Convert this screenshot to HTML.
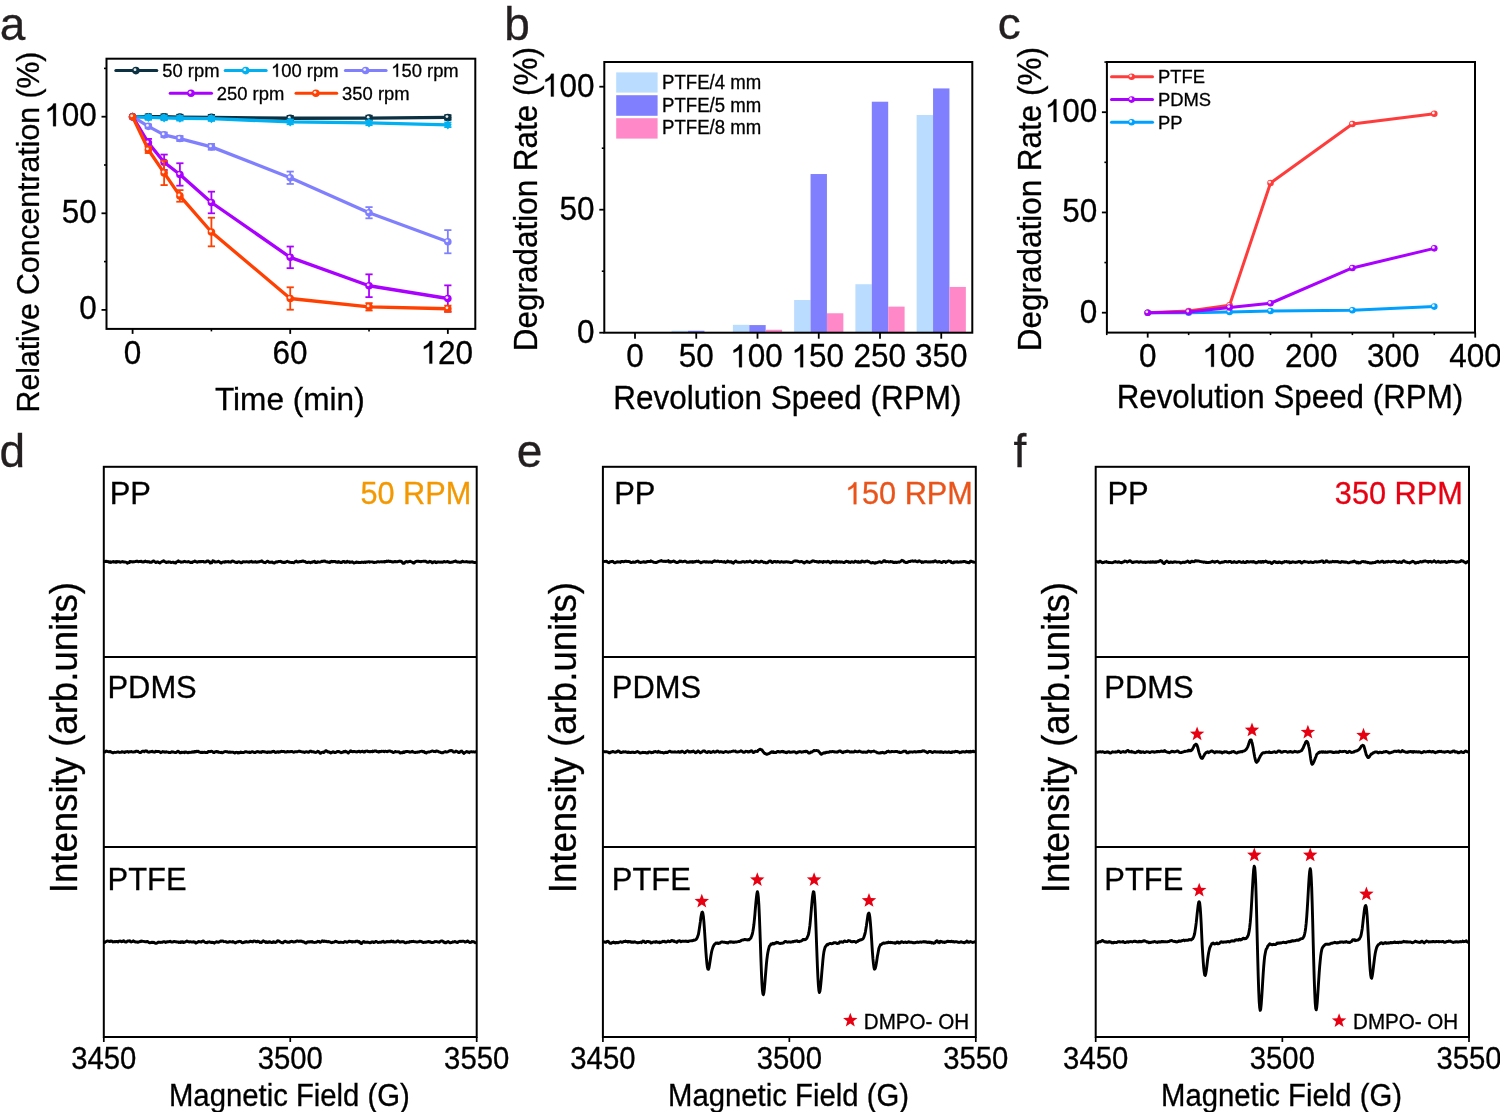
<!DOCTYPE html>
<html><head><meta charset="utf-8"><style>
html,body{margin:0;padding:0;background:#fff;overflow:hidden;}
svg{display:block;will-change:transform;}
text{font-family:"Liberation Sans", sans-serif;stroke-width:0.3px;paint-order:stroke;}
</style></head><body>
<svg width="1500" height="1112" viewBox="0 0 1500 1112">
<rect width="1500" height="1112" fill="#fff"/>
<text x="-0.35" y="40" font-size="46" fill="#231f20" stroke="#231f20" >a</text>
<line x1="101.5" y1="309.9" x2="106.5" y2="309.9" stroke="#000" stroke-width="1.8" />
<line x1="101.5" y1="213.3" x2="106.5" y2="213.3" stroke="#000" stroke-width="1.8" />
<line x1="101.5" y1="116.7" x2="106.5" y2="116.7" stroke="#000" stroke-width="1.8" />
<line x1="104" y1="261.6" x2="106.5" y2="261.6" stroke="#000" stroke-width="1.6" />
<line x1="104" y1="165" x2="106.5" y2="165" stroke="#000" stroke-width="1.6" />
<line x1="104" y1="68.4" x2="106.5" y2="68.4" stroke="#000" stroke-width="1.6" />
<line x1="132.6" y1="328.9" x2="132.6" y2="333.9" stroke="#000" stroke-width="1.8" />
<line x1="290.22" y1="328.9" x2="290.22" y2="333.9" stroke="#000" stroke-width="1.8" />
<line x1="447.84" y1="328.9" x2="447.84" y2="333.9" stroke="#000" stroke-width="1.8" />
<line x1="211.41" y1="328.9" x2="211.41" y2="331.4" stroke="#000" stroke-width="1.6" />
<line x1="369.03" y1="328.9" x2="369.03" y2="331.4" stroke="#000" stroke-width="1.6" />
<text transform="translate(79.21,319.35) scale(1,1.05)" font-size="31.5" fill="#000" stroke="#000" >0</text>
<text transform="translate(61.69,222.75) scale(1,1.05)" font-size="31.5" fill="#000" stroke="#000" >50</text>
<g transform="translate(44.17,126.15) scale(1,1.05)"><text x="0" y="0" font-size="31.5" fill="#000" stroke="#000" > 00</text><path transform="translate(0,0) scale(0.01538,-0.01538)" d="M763 0L583 0L583 1100C540 1058 470 1013 400 975C330 938 270 913 223 898L223 1058C300 1088 390 1138 460 1198C530 1258 580 1330 610 1405L763 1405Z" fill="#000" stroke="#000" stroke-width="0.3" vector-effect="non-scaling-stroke"/></g>
<text transform="translate(123.84,363.6) scale(1,1.05)" font-size="31.5" fill="#000" stroke="#000" >0</text>
<text transform="translate(272.52,363.6) scale(1,1.05)" font-size="31.5" fill="#000" stroke="#000" >60</text>
<g transform="translate(420.46,363.6) scale(1,1.05)"><text x="0" y="0" font-size="31.5" fill="#000" stroke="#000" > 20</text><path transform="translate(0,0) scale(0.01538,-0.01538)" d="M763 0L583 0L583 1100C540 1058 470 1013 400 975C330 938 270 913 223 898L223 1058C300 1088 390 1138 460 1198C530 1258 580 1330 610 1405L763 1405Z" fill="#000" stroke="#000" stroke-width="0.3" vector-effect="non-scaling-stroke"/></g>
<text x="214.94" y="410" font-size="31.6" fill="#000" stroke="#000" >Time (min)</text>
<text transform="translate(38.8,412.38) rotate(-90) scale(1,1.04)" font-size="30.2" fill="#000" stroke="#000">Relative Concentration (%)</text>
<line x1="148.36" y1="114.38" x2="148.36" y2="119.02" stroke="#0b3142" stroke-width="1.8" />
<line x1="144.76" y1="114.38" x2="151.96" y2="114.38" stroke="#0b3142" stroke-width="1.8" />
<line x1="144.76" y1="119.02" x2="151.96" y2="119.02" stroke="#0b3142" stroke-width="1.8" />
<line x1="164.12" y1="114.38" x2="164.12" y2="119.02" stroke="#0b3142" stroke-width="1.8" />
<line x1="160.52" y1="114.38" x2="167.72" y2="114.38" stroke="#0b3142" stroke-width="1.8" />
<line x1="160.52" y1="119.02" x2="167.72" y2="119.02" stroke="#0b3142" stroke-width="1.8" />
<line x1="179.89" y1="114.77" x2="179.89" y2="119.4" stroke="#0b3142" stroke-width="1.8" />
<line x1="176.29" y1="114.77" x2="183.49" y2="114.77" stroke="#0b3142" stroke-width="1.8" />
<line x1="176.29" y1="119.4" x2="183.49" y2="119.4" stroke="#0b3142" stroke-width="1.8" />
<line x1="211.41" y1="114.96" x2="211.41" y2="119.6" stroke="#0b3142" stroke-width="1.8" />
<line x1="207.81" y1="114.96" x2="215.01" y2="114.96" stroke="#0b3142" stroke-width="1.8" />
<line x1="207.81" y1="119.6" x2="215.01" y2="119.6" stroke="#0b3142" stroke-width="1.8" />
<line x1="290.22" y1="115.93" x2="290.22" y2="120.56" stroke="#0b3142" stroke-width="1.8" />
<line x1="286.62" y1="115.93" x2="293.82" y2="115.93" stroke="#0b3142" stroke-width="1.8" />
<line x1="286.62" y1="120.56" x2="293.82" y2="120.56" stroke="#0b3142" stroke-width="1.8" />
<line x1="369.03" y1="115.73" x2="369.03" y2="120.37" stroke="#0b3142" stroke-width="1.8" />
<line x1="365.43" y1="115.73" x2="372.63" y2="115.73" stroke="#0b3142" stroke-width="1.8" />
<line x1="365.43" y1="120.37" x2="372.63" y2="120.37" stroke="#0b3142" stroke-width="1.8" />
<line x1="447.84" y1="115.15" x2="447.84" y2="119.79" stroke="#0b3142" stroke-width="1.8" />
<line x1="444.24" y1="115.15" x2="451.44" y2="115.15" stroke="#0b3142" stroke-width="1.8" />
<line x1="444.24" y1="119.79" x2="451.44" y2="119.79" stroke="#0b3142" stroke-width="1.8" />
<polyline points="132.6,116.7 148.36,116.7 164.12,116.7 179.89,117.09 211.41,117.28 290.22,118.25 369.03,118.05 447.84,117.47" fill="none" stroke="#0b3142" stroke-width="3.3" stroke-linejoin="round" stroke-linecap="round" />
<circle cx="132.6" cy="116.7" r="3.8" fill="#0b3142"/>
<circle cx="131.7" cy="115.8" r="1.4" fill="#fff" opacity="0.9"/>
<circle cx="148.36" cy="116.7" r="3.8" fill="#0b3142"/>
<circle cx="147.46" cy="115.8" r="1.4" fill="#fff" opacity="0.9"/>
<circle cx="164.12" cy="116.7" r="3.8" fill="#0b3142"/>
<circle cx="163.22" cy="115.8" r="1.4" fill="#fff" opacity="0.9"/>
<circle cx="179.89" cy="117.09" r="3.8" fill="#0b3142"/>
<circle cx="178.99" cy="116.19" r="1.4" fill="#fff" opacity="0.9"/>
<circle cx="211.41" cy="117.28" r="3.8" fill="#0b3142"/>
<circle cx="210.51" cy="116.38" r="1.4" fill="#fff" opacity="0.9"/>
<circle cx="290.22" cy="118.25" r="3.8" fill="#0b3142"/>
<circle cx="289.32" cy="117.35" r="1.4" fill="#fff" opacity="0.9"/>
<circle cx="369.03" cy="118.05" r="3.8" fill="#0b3142"/>
<circle cx="368.13" cy="117.15" r="1.4" fill="#fff" opacity="0.9"/>
<circle cx="447.84" cy="117.47" r="3.8" fill="#0b3142"/>
<circle cx="446.94" cy="116.57" r="1.4" fill="#fff" opacity="0.9"/>
<line x1="148.36" y1="115.15" x2="148.36" y2="119.79" stroke="#00b0f0" stroke-width="1.8" />
<line x1="144.76" y1="115.15" x2="151.96" y2="115.15" stroke="#00b0f0" stroke-width="1.8" />
<line x1="144.76" y1="119.79" x2="151.96" y2="119.79" stroke="#00b0f0" stroke-width="1.8" />
<line x1="164.12" y1="115.54" x2="164.12" y2="120.18" stroke="#00b0f0" stroke-width="1.8" />
<line x1="160.52" y1="115.54" x2="167.72" y2="115.54" stroke="#00b0f0" stroke-width="1.8" />
<line x1="160.52" y1="120.18" x2="167.72" y2="120.18" stroke="#00b0f0" stroke-width="1.8" />
<line x1="179.89" y1="115.93" x2="179.89" y2="120.56" stroke="#00b0f0" stroke-width="1.8" />
<line x1="176.29" y1="115.93" x2="183.49" y2="115.93" stroke="#00b0f0" stroke-width="1.8" />
<line x1="176.29" y1="120.56" x2="183.49" y2="120.56" stroke="#00b0f0" stroke-width="1.8" />
<line x1="211.41" y1="116.31" x2="211.41" y2="120.95" stroke="#00b0f0" stroke-width="1.8" />
<line x1="207.81" y1="116.31" x2="215.01" y2="116.31" stroke="#00b0f0" stroke-width="1.8" />
<line x1="207.81" y1="120.95" x2="215.01" y2="120.95" stroke="#00b0f0" stroke-width="1.8" />
<line x1="290.22" y1="119.6" x2="290.22" y2="124.23" stroke="#00b0f0" stroke-width="1.8" />
<line x1="286.62" y1="119.6" x2="293.82" y2="119.6" stroke="#00b0f0" stroke-width="1.8" />
<line x1="286.62" y1="124.23" x2="293.82" y2="124.23" stroke="#00b0f0" stroke-width="1.8" />
<line x1="369.03" y1="120.56" x2="369.03" y2="125.2" stroke="#00b0f0" stroke-width="1.8" />
<line x1="365.43" y1="120.56" x2="372.63" y2="120.56" stroke="#00b0f0" stroke-width="1.8" />
<line x1="365.43" y1="125.2" x2="372.63" y2="125.2" stroke="#00b0f0" stroke-width="1.8" />
<line x1="447.84" y1="122.5" x2="447.84" y2="127.13" stroke="#00b0f0" stroke-width="1.8" />
<line x1="444.24" y1="122.5" x2="451.44" y2="122.5" stroke="#00b0f0" stroke-width="1.8" />
<line x1="444.24" y1="127.13" x2="451.44" y2="127.13" stroke="#00b0f0" stroke-width="1.8" />
<polyline points="132.6,116.7 148.36,117.47 164.12,117.86 179.89,118.25 211.41,118.63 290.22,121.92 369.03,122.88 447.84,124.81" fill="none" stroke="#00b0f0" stroke-width="3.3" stroke-linejoin="round" stroke-linecap="round" />
<path d="M132.6,112.1 L136.5,116.7 L132.6,121.3 L128.7,116.7Z" fill="#00b0f0"/>
<path d="M148.36,112.87 L152.26,117.47 L148.36,122.07 L144.46,117.47Z" fill="#00b0f0"/>
<path d="M164.12,113.26 L168.02,117.86 L164.12,122.46 L160.22,117.86Z" fill="#00b0f0"/>
<path d="M179.89,113.65 L183.79,118.25 L179.89,122.85 L175.99,118.25Z" fill="#00b0f0"/>
<path d="M211.41,114.03 L215.31,118.63 L211.41,123.23 L207.51,118.63Z" fill="#00b0f0"/>
<path d="M290.22,117.32 L294.12,121.92 L290.22,126.52 L286.32,121.92Z" fill="#00b0f0"/>
<path d="M369.03,118.28 L372.93,122.88 L369.03,127.48 L365.13,122.88Z" fill="#00b0f0"/>
<path d="M447.84,120.21 L451.74,124.81 L447.84,129.41 L443.94,124.81Z" fill="#00b0f0"/>
<line x1="148.36" y1="124.43" x2="148.36" y2="128.29" stroke="#8080ff" stroke-width="1.8" />
<line x1="144.76" y1="124.43" x2="151.96" y2="124.43" stroke="#8080ff" stroke-width="1.8" />
<line x1="144.76" y1="128.29" x2="151.96" y2="128.29" stroke="#8080ff" stroke-width="1.8" />
<line x1="164.12" y1="132.54" x2="164.12" y2="137.18" stroke="#8080ff" stroke-width="1.8" />
<line x1="160.52" y1="132.54" x2="167.72" y2="132.54" stroke="#8080ff" stroke-width="1.8" />
<line x1="160.52" y1="137.18" x2="167.72" y2="137.18" stroke="#8080ff" stroke-width="1.8" />
<line x1="179.89" y1="136.02" x2="179.89" y2="141.04" stroke="#8080ff" stroke-width="1.8" />
<line x1="176.29" y1="136.02" x2="183.49" y2="136.02" stroke="#8080ff" stroke-width="1.8" />
<line x1="176.29" y1="141.04" x2="183.49" y2="141.04" stroke="#8080ff" stroke-width="1.8" />
<line x1="211.41" y1="143.94" x2="211.41" y2="149.74" stroke="#8080ff" stroke-width="1.8" />
<line x1="207.81" y1="143.94" x2="215.01" y2="143.94" stroke="#8080ff" stroke-width="1.8" />
<line x1="207.81" y1="149.74" x2="215.01" y2="149.74" stroke="#8080ff" stroke-width="1.8" />
<line x1="290.22" y1="171.57" x2="290.22" y2="183.93" stroke="#8080ff" stroke-width="1.8" />
<line x1="286.62" y1="171.57" x2="293.82" y2="171.57" stroke="#8080ff" stroke-width="1.8" />
<line x1="286.62" y1="183.93" x2="293.82" y2="183.93" stroke="#8080ff" stroke-width="1.8" />
<line x1="369.03" y1="207.12" x2="369.03" y2="218.32" stroke="#8080ff" stroke-width="1.8" />
<line x1="365.43" y1="207.12" x2="372.63" y2="207.12" stroke="#8080ff" stroke-width="1.8" />
<line x1="365.43" y1="218.32" x2="372.63" y2="218.32" stroke="#8080ff" stroke-width="1.8" />
<line x1="447.84" y1="230.11" x2="447.84" y2="253.29" stroke="#8080ff" stroke-width="1.8" />
<line x1="444.24" y1="230.11" x2="451.44" y2="230.11" stroke="#8080ff" stroke-width="1.8" />
<line x1="444.24" y1="253.29" x2="451.44" y2="253.29" stroke="#8080ff" stroke-width="1.8" />
<polyline points="132.6,116.7 148.36,126.36 164.12,134.86 179.89,138.53 211.41,146.84 290.22,177.75 369.03,212.72 447.84,241.7" fill="none" stroke="#8080ff" stroke-width="3.3" stroke-linejoin="round" stroke-linecap="round" />
<circle cx="132.6" cy="116.7" r="3.8" fill="#8080ff"/>
<circle cx="131.7" cy="115.8" r="1.4" fill="#fff" opacity="0.9"/>
<circle cx="148.36" cy="126.36" r="3.8" fill="#8080ff"/>
<circle cx="147.46" cy="125.46" r="1.4" fill="#fff" opacity="0.9"/>
<circle cx="164.12" cy="134.86" r="3.8" fill="#8080ff"/>
<circle cx="163.22" cy="133.96" r="1.4" fill="#fff" opacity="0.9"/>
<circle cx="179.89" cy="138.53" r="3.8" fill="#8080ff"/>
<circle cx="178.99" cy="137.63" r="1.4" fill="#fff" opacity="0.9"/>
<circle cx="211.41" cy="146.84" r="3.8" fill="#8080ff"/>
<circle cx="210.51" cy="145.94" r="1.4" fill="#fff" opacity="0.9"/>
<circle cx="290.22" cy="177.75" r="3.8" fill="#8080ff"/>
<circle cx="289.32" cy="176.85" r="1.4" fill="#fff" opacity="0.9"/>
<circle cx="369.03" cy="212.72" r="3.8" fill="#8080ff"/>
<circle cx="368.13" cy="211.82" r="1.4" fill="#fff" opacity="0.9"/>
<circle cx="447.84" cy="241.7" r="3.8" fill="#8080ff"/>
<circle cx="446.94" cy="240.8" r="1.4" fill="#fff" opacity="0.9"/>
<line x1="148.36" y1="138.92" x2="148.36" y2="146.65" stroke="#aa00ff" stroke-width="1.8" />
<line x1="144.76" y1="138.92" x2="151.96" y2="138.92" stroke="#aa00ff" stroke-width="1.8" />
<line x1="144.76" y1="146.65" x2="151.96" y2="146.65" stroke="#aa00ff" stroke-width="1.8" />
<line x1="164.12" y1="154.57" x2="164.12" y2="170.02" stroke="#aa00ff" stroke-width="1.8" />
<line x1="160.52" y1="154.57" x2="167.72" y2="154.57" stroke="#aa00ff" stroke-width="1.8" />
<line x1="160.52" y1="170.02" x2="167.72" y2="170.02" stroke="#aa00ff" stroke-width="1.8" />
<line x1="179.89" y1="163.26" x2="179.89" y2="185.67" stroke="#aa00ff" stroke-width="1.8" />
<line x1="176.29" y1="163.26" x2="183.49" y2="163.26" stroke="#aa00ff" stroke-width="1.8" />
<line x1="176.29" y1="185.67" x2="183.49" y2="185.67" stroke="#aa00ff" stroke-width="1.8" />
<line x1="211.41" y1="191.66" x2="211.41" y2="213.3" stroke="#aa00ff" stroke-width="1.8" />
<line x1="207.81" y1="191.66" x2="215.01" y2="191.66" stroke="#aa00ff" stroke-width="1.8" />
<line x1="207.81" y1="213.3" x2="215.01" y2="213.3" stroke="#aa00ff" stroke-width="1.8" />
<line x1="290.22" y1="246.53" x2="290.22" y2="268.17" stroke="#aa00ff" stroke-width="1.8" />
<line x1="286.62" y1="246.53" x2="293.82" y2="246.53" stroke="#aa00ff" stroke-width="1.8" />
<line x1="286.62" y1="268.17" x2="293.82" y2="268.17" stroke="#aa00ff" stroke-width="1.8" />
<line x1="369.03" y1="274.35" x2="369.03" y2="297.15" stroke="#aa00ff" stroke-width="1.8" />
<line x1="365.43" y1="274.35" x2="372.63" y2="274.35" stroke="#aa00ff" stroke-width="1.8" />
<line x1="365.43" y1="297.15" x2="372.63" y2="297.15" stroke="#aa00ff" stroke-width="1.8" />
<line x1="447.84" y1="285.36" x2="447.84" y2="311.64" stroke="#aa00ff" stroke-width="1.8" />
<line x1="444.24" y1="285.36" x2="451.44" y2="285.36" stroke="#aa00ff" stroke-width="1.8" />
<line x1="444.24" y1="311.64" x2="451.44" y2="311.64" stroke="#aa00ff" stroke-width="1.8" />
<polyline points="132.6,116.7 148.36,142.78 164.12,162.3 179.89,174.47 211.41,202.48 290.22,257.35 369.03,285.75 447.84,298.5" fill="none" stroke="#aa00ff" stroke-width="3.3" stroke-linejoin="round" stroke-linecap="round" />
<circle cx="132.6" cy="116.7" r="3.8" fill="#aa00ff"/>
<circle cx="131.7" cy="115.8" r="1.4" fill="#fff" opacity="0.9"/>
<circle cx="148.36" cy="142.78" r="3.8" fill="#aa00ff"/>
<circle cx="147.46" cy="141.88" r="1.4" fill="#fff" opacity="0.9"/>
<circle cx="164.12" cy="162.3" r="3.8" fill="#aa00ff"/>
<circle cx="163.22" cy="161.4" r="1.4" fill="#fff" opacity="0.9"/>
<circle cx="179.89" cy="174.47" r="3.8" fill="#aa00ff"/>
<circle cx="178.99" cy="173.57" r="1.4" fill="#fff" opacity="0.9"/>
<circle cx="211.41" cy="202.48" r="3.8" fill="#aa00ff"/>
<circle cx="210.51" cy="201.58" r="1.4" fill="#fff" opacity="0.9"/>
<circle cx="290.22" cy="257.35" r="3.8" fill="#aa00ff"/>
<circle cx="289.32" cy="256.45" r="1.4" fill="#fff" opacity="0.9"/>
<circle cx="369.03" cy="285.75" r="3.8" fill="#aa00ff"/>
<circle cx="368.13" cy="284.85" r="1.4" fill="#fff" opacity="0.9"/>
<circle cx="447.84" cy="298.5" r="3.8" fill="#aa00ff"/>
<circle cx="446.94" cy="297.6" r="1.4" fill="#fff" opacity="0.9"/>
<line x1="148.36" y1="146.45" x2="148.36" y2="153.02" stroke="#ff4000" stroke-width="1.8" />
<line x1="144.76" y1="146.45" x2="151.96" y2="146.45" stroke="#ff4000" stroke-width="1.8" />
<line x1="144.76" y1="153.02" x2="151.96" y2="153.02" stroke="#ff4000" stroke-width="1.8" />
<line x1="164.12" y1="160.75" x2="164.12" y2="185.09" stroke="#ff4000" stroke-width="1.8" />
<line x1="160.52" y1="160.75" x2="167.72" y2="160.75" stroke="#ff4000" stroke-width="1.8" />
<line x1="160.52" y1="185.09" x2="167.72" y2="185.09" stroke="#ff4000" stroke-width="1.8" />
<line x1="179.89" y1="190.12" x2="179.89" y2="201.71" stroke="#ff4000" stroke-width="1.8" />
<line x1="176.29" y1="190.12" x2="183.49" y2="190.12" stroke="#ff4000" stroke-width="1.8" />
<line x1="176.29" y1="201.71" x2="183.49" y2="201.71" stroke="#ff4000" stroke-width="1.8" />
<line x1="211.41" y1="217.74" x2="211.41" y2="246.34" stroke="#ff4000" stroke-width="1.8" />
<line x1="207.81" y1="217.74" x2="215.01" y2="217.74" stroke="#ff4000" stroke-width="1.8" />
<line x1="207.81" y1="246.34" x2="215.01" y2="246.34" stroke="#ff4000" stroke-width="1.8" />
<line x1="290.22" y1="287.3" x2="290.22" y2="309.71" stroke="#ff4000" stroke-width="1.8" />
<line x1="286.62" y1="287.3" x2="293.82" y2="287.3" stroke="#ff4000" stroke-width="1.8" />
<line x1="286.62" y1="309.71" x2="293.82" y2="309.71" stroke="#ff4000" stroke-width="1.8" />
<line x1="369.03" y1="303.14" x2="369.03" y2="310.48" stroke="#ff4000" stroke-width="1.8" />
<line x1="365.43" y1="303.14" x2="372.63" y2="303.14" stroke="#ff4000" stroke-width="1.8" />
<line x1="365.43" y1="310.48" x2="372.63" y2="310.48" stroke="#ff4000" stroke-width="1.8" />
<line x1="447.84" y1="305.65" x2="447.84" y2="311.83" stroke="#ff4000" stroke-width="1.8" />
<line x1="444.24" y1="305.65" x2="451.44" y2="305.65" stroke="#ff4000" stroke-width="1.8" />
<line x1="444.24" y1="311.83" x2="451.44" y2="311.83" stroke="#ff4000" stroke-width="1.8" />
<polyline points="132.6,116.7 148.36,149.74 164.12,172.92 179.89,195.91 211.41,232.04 290.22,298.5 369.03,306.81 447.84,308.74" fill="none" stroke="#ff4000" stroke-width="3.3" stroke-linejoin="round" stroke-linecap="round" />
<circle cx="132.6" cy="116.7" r="3.8" fill="#ff4000"/>
<circle cx="131.7" cy="115.8" r="1.4" fill="#fff" opacity="0.9"/>
<circle cx="148.36" cy="149.74" r="3.8" fill="#ff4000"/>
<circle cx="147.46" cy="148.84" r="1.4" fill="#fff" opacity="0.9"/>
<circle cx="164.12" cy="172.92" r="3.8" fill="#ff4000"/>
<circle cx="163.22" cy="172.02" r="1.4" fill="#fff" opacity="0.9"/>
<circle cx="179.89" cy="195.91" r="3.8" fill="#ff4000"/>
<circle cx="178.99" cy="195.01" r="1.4" fill="#fff" opacity="0.9"/>
<circle cx="211.41" cy="232.04" r="3.8" fill="#ff4000"/>
<circle cx="210.51" cy="231.14" r="1.4" fill="#fff" opacity="0.9"/>
<circle cx="290.22" cy="298.5" r="3.8" fill="#ff4000"/>
<circle cx="289.32" cy="297.6" r="1.4" fill="#fff" opacity="0.9"/>
<circle cx="369.03" cy="306.81" r="3.8" fill="#ff4000"/>
<circle cx="368.13" cy="305.91" r="1.4" fill="#fff" opacity="0.9"/>
<circle cx="447.84" cy="308.74" r="3.8" fill="#ff4000"/>
<circle cx="446.94" cy="307.84" r="1.4" fill="#fff" opacity="0.9"/>
<line x1="115.8" y1="70.6" x2="156.8" y2="70.6" stroke="#0b3142" stroke-width="3" stroke-linecap="round"/>
<circle cx="135.9" cy="70.6" r="3.8" fill="#0b3142"/>
<circle cx="135" cy="69.7" r="1.4" fill="#fff" opacity="0.9"/>
<text transform="translate(162.26,76.8) scale(1,1.04)" font-size="18.4" fill="#000" stroke="#000" >50 rpm</text>
<line x1="225.2" y1="70.6" x2="266.2" y2="70.6" stroke="#00b0f0" stroke-width="3" stroke-linecap="round"/>
<circle cx="245.7" cy="70.6" r="3.8" fill="#00b0f0"/>
<circle cx="244.8" cy="69.7" r="1.4" fill="#fff" opacity="0.9"/>
<g transform="translate(271,76.8) scale(1,1.04)"><text x="0" y="0" font-size="18.4" fill="#000" stroke="#000" > 00 rpm</text><path transform="translate(0,0) scale(0.00898,-0.00898)" d="M763 0L583 0L583 1100C540 1058 470 1013 400 975C330 938 270 913 223 898L223 1058C300 1088 390 1138 460 1198C530 1258 580 1330 610 1405L763 1405Z" fill="#000" stroke="#000" stroke-width="0.3" vector-effect="non-scaling-stroke"/></g>
<line x1="345.4" y1="70.5" x2="386.1" y2="70.5" stroke="#8080ff" stroke-width="3" stroke-linecap="round"/>
<circle cx="365.6" cy="70.5" r="3.8" fill="#8080ff"/>
<circle cx="364.7" cy="69.6" r="1.4" fill="#fff" opacity="0.9"/>
<g transform="translate(391.2,76.8) scale(1,1.04)"><text x="0" y="0" font-size="18.4" fill="#000" stroke="#000" > 50 rpm</text><path transform="translate(0,0) scale(0.00898,-0.00898)" d="M763 0L583 0L583 1100C540 1058 470 1013 400 975C330 938 270 913 223 898L223 1058C300 1088 390 1138 460 1198C530 1258 580 1330 610 1405L763 1405Z" fill="#000" stroke="#000" stroke-width="0.3" vector-effect="non-scaling-stroke"/></g>
<line x1="170.2" y1="93.3" x2="211.5" y2="93.3" stroke="#aa00ff" stroke-width="3" stroke-linecap="round"/>
<circle cx="191" cy="93.3" r="3.8" fill="#aa00ff"/>
<circle cx="190.1" cy="92.4" r="1.4" fill="#fff" opacity="0.9"/>
<text transform="translate(216.77,99.5) scale(1,1.04)" font-size="18.4" fill="#000" stroke="#000" >250 rpm</text>
<line x1="296" y1="93.2" x2="336.7" y2="93.2" stroke="#ff4000" stroke-width="3" stroke-linecap="round"/>
<circle cx="315.9" cy="93.2" r="3.8" fill="#ff4000"/>
<circle cx="315" cy="92.3" r="1.4" fill="#fff" opacity="0.9"/>
<text transform="translate(342.1,99.5) scale(1,1.04)" font-size="18.4" fill="#000" stroke="#000" >350 rpm</text>
<rect x="106.5" y="58.7" width="368.8" height="270.2" fill="none" stroke="#000" stroke-width="2" />
<text x="504.34" y="40" font-size="46" fill="#231f20" stroke="#231f20" >b</text>
<rect x="671.65" y="330.73" width="16.4" height="1.97" fill="#b9dcff" stroke="none" stroke-width="0" />
<rect x="732.9" y="324.83" width="16.4" height="7.87" fill="#b9dcff" stroke="none" stroke-width="0" />
<rect x="794.15" y="299.98" width="16.4" height="32.72" fill="#b9dcff" stroke="none" stroke-width="0" />
<rect x="855.4" y="284.24" width="16.4" height="48.46" fill="#b9dcff" stroke="none" stroke-width="0" />
<rect x="916.65" y="114.99" width="16.4" height="217.71" fill="#b9dcff" stroke="none" stroke-width="0" />
<rect x="688.05" y="330.73" width="16.4" height="1.97" fill="#8080ff" stroke="none" stroke-width="0" />
<rect x="749.3" y="325.07" width="16.4" height="7.63" fill="#8080ff" stroke="none" stroke-width="0" />
<rect x="810.55" y="174.03" width="16.4" height="158.67" fill="#8080ff" stroke="none" stroke-width="0" />
<rect x="871.8" y="101.71" width="16.4" height="230.99" fill="#8080ff" stroke="none" stroke-width="0" />
<rect x="933.05" y="88.42" width="16.4" height="244.28" fill="#8080ff" stroke="none" stroke-width="0" />
<rect x="765.7" y="329.75" width="16.4" height="2.95" fill="#ff88c8" stroke="none" stroke-width="0" />
<rect x="826.95" y="313.27" width="16.4" height="19.43" fill="#ff88c8" stroke="none" stroke-width="0" />
<rect x="888.2" y="306.62" width="16.4" height="26.08" fill="#ff88c8" stroke="none" stroke-width="0" />
<rect x="949.45" y="286.94" width="16.4" height="45.76" fill="#ff88c8" stroke="none" stroke-width="0" />
<line x1="599.3" y1="332.7" x2="604.3" y2="332.7" stroke="#000" stroke-width="1.8" />
<line x1="599.3" y1="209.7" x2="604.3" y2="209.7" stroke="#000" stroke-width="1.8" />
<line x1="599.3" y1="86.7" x2="604.3" y2="86.7" stroke="#000" stroke-width="1.8" />
<line x1="601.8" y1="271.2" x2="604.3" y2="271.2" stroke="#000" stroke-width="1.6" />
<line x1="601.8" y1="148.2" x2="604.3" y2="148.2" stroke="#000" stroke-width="1.6" />
<line x1="635" y1="332.7" x2="635" y2="338.7" stroke="#000" stroke-width="1.8" />
<line x1="696.25" y1="332.7" x2="696.25" y2="338.7" stroke="#000" stroke-width="1.8" />
<line x1="757.5" y1="332.7" x2="757.5" y2="338.7" stroke="#000" stroke-width="1.8" />
<line x1="818.75" y1="332.7" x2="818.75" y2="338.7" stroke="#000" stroke-width="1.8" />
<line x1="880" y1="332.7" x2="880" y2="338.7" stroke="#000" stroke-width="1.8" />
<line x1="941.25" y1="332.7" x2="941.25" y2="338.7" stroke="#000" stroke-width="1.8" />
<text transform="translate(577.01,342.5) scale(1,1.05)" font-size="31.5" fill="#000" stroke="#000" >0</text>
<text transform="translate(559.49,219.5) scale(1,1.05)" font-size="31.5" fill="#000" stroke="#000" >50</text>
<g transform="translate(541.97,96.5) scale(1,1.05)"><text x="0" y="0" font-size="31.5" fill="#000" stroke="#000" > 00</text><path transform="translate(0,0) scale(0.01538,-0.01538)" d="M763 0L583 0L583 1100C540 1058 470 1013 400 975C330 938 270 913 223 898L223 1058C300 1088 390 1138 460 1198C530 1258 580 1330 610 1405L763 1405Z" fill="#000" stroke="#000" stroke-width="0.3" vector-effect="non-scaling-stroke"/></g>
<text transform="translate(626.24,367.2) scale(1,1.05)" font-size="31.5" fill="#000" stroke="#000" >0</text>
<text transform="translate(678.72,367.2) scale(1,1.05)" font-size="31.5" fill="#000" stroke="#000" >50</text>
<g transform="translate(730.12,367.2) scale(1,1.05)"><text x="0" y="0" font-size="31.5" fill="#000" stroke="#000" > 00</text><path transform="translate(0,0) scale(0.01538,-0.01538)" d="M763 0L583 0L583 1100C540 1058 470 1013 400 975C330 938 270 913 223 898L223 1058C300 1088 390 1138 460 1198C530 1258 580 1330 610 1405L763 1405Z" fill="#000" stroke="#000" stroke-width="0.3" vector-effect="non-scaling-stroke"/></g>
<g transform="translate(791.37,367.2) scale(1,1.05)"><text x="0" y="0" font-size="31.5" fill="#000" stroke="#000" > 50</text><path transform="translate(0,0) scale(0.01538,-0.01538)" d="M763 0L583 0L583 1100C540 1058 470 1013 400 975C330 938 270 913 223 898L223 1058C300 1088 390 1138 460 1198C530 1258 580 1330 610 1405L763 1405Z" fill="#000" stroke="#000" stroke-width="0.3" vector-effect="non-scaling-stroke"/></g>
<text transform="translate(853.54,367.2) scale(1,1.05)" font-size="31.5" fill="#000" stroke="#000" >250</text>
<text transform="translate(914.99,367.2) scale(1,1.05)" font-size="31.5" fill="#000" stroke="#000" >350</text>
<text transform="translate(613.22,408.7) scale(1,1.045)" font-size="31.5" fill="#000" stroke="#000" >Revolution Speed (RPM)</text>
<text transform="translate(536.7,351.18) rotate(-90) scale(1,1.04)" font-size="31.45" fill="#000" stroke="#000">Degradation Rate (%)</text>
<rect x="616.2" y="72.4" width="41.4" height="20.2" fill="#b9dcff" stroke="none" stroke-width="0" />
<text transform="translate(662.07,88.8) scale(1,1.04)" font-size="18.6" fill="#000" stroke="#000" >PTFE/4 mm</text>
<rect x="616.2" y="95.2" width="41.4" height="20.6" fill="#8080ff" stroke="none" stroke-width="0" />
<text transform="translate(662.07,111.6) scale(1,1.04)" font-size="18.6" fill="#000" stroke="#000" >PTFE/5 mm</text>
<rect x="616.2" y="118.2" width="41.4" height="20.4" fill="#ff88c8" stroke="none" stroke-width="0" />
<text transform="translate(662.07,134.4) scale(1,1.04)" font-size="18.6" fill="#000" stroke="#000" >PTFE/8 mm</text>
<rect x="604.3" y="62" width="368" height="270.7" fill="none" stroke="#000" stroke-width="2" />
<text transform="translate(997.65,39.3) scale(1,0.97)" font-size="46" fill="#231f20" stroke="#231f20" >c</text>
<line x1="1101.9" y1="312.7" x2="1106.9" y2="312.7" stroke="#000" stroke-width="1.8" />
<line x1="1101.9" y1="212.45" x2="1106.9" y2="212.45" stroke="#000" stroke-width="1.8" />
<line x1="1101.9" y1="112.2" x2="1106.9" y2="112.2" stroke="#000" stroke-width="1.8" />
<line x1="1104.4" y1="262.57" x2="1106.9" y2="262.57" stroke="#000" stroke-width="1.6" />
<line x1="1104.4" y1="162.32" x2="1106.9" y2="162.32" stroke="#000" stroke-width="1.6" />
<line x1="1104.4" y1="62.07" x2="1106.9" y2="62.07" stroke="#000" stroke-width="1.6" />
<line x1="1147.7" y1="332.6" x2="1147.7" y2="337.6" stroke="#000" stroke-width="1.8" />
<line x1="1229.58" y1="332.6" x2="1229.58" y2="337.6" stroke="#000" stroke-width="1.8" />
<line x1="1311.46" y1="332.6" x2="1311.46" y2="337.6" stroke="#000" stroke-width="1.8" />
<line x1="1393.34" y1="332.6" x2="1393.34" y2="337.6" stroke="#000" stroke-width="1.8" />
<line x1="1475.22" y1="332.6" x2="1475.22" y2="337.6" stroke="#000" stroke-width="1.8" />
<line x1="1106.76" y1="332.6" x2="1106.76" y2="335.1" stroke="#000" stroke-width="1.6" />
<line x1="1188.64" y1="332.6" x2="1188.64" y2="335.1" stroke="#000" stroke-width="1.6" />
<line x1="1270.52" y1="332.6" x2="1270.52" y2="335.1" stroke="#000" stroke-width="1.6" />
<line x1="1352.4" y1="332.6" x2="1352.4" y2="335.1" stroke="#000" stroke-width="1.6" />
<line x1="1434.28" y1="332.6" x2="1434.28" y2="335.1" stroke="#000" stroke-width="1.6" />
<text transform="translate(1079.71,322.5) scale(1,1.05)" font-size="31.5" fill="#000" stroke="#000" >0</text>
<text transform="translate(1062.19,222.25) scale(1,1.05)" font-size="31.5" fill="#000" stroke="#000" >50</text>
<g transform="translate(1044.67,122) scale(1,1.05)"><text x="0" y="0" font-size="31.5" fill="#000" stroke="#000" > 00</text><path transform="translate(0,0) scale(0.01538,-0.01538)" d="M763 0L583 0L583 1100C540 1058 470 1013 400 975C330 938 270 913 223 898L223 1058C300 1088 390 1138 460 1198C530 1258 580 1330 610 1405L763 1405Z" fill="#000" stroke="#000" stroke-width="0.3" vector-effect="non-scaling-stroke"/></g>
<text transform="translate(1138.94,366.8) scale(1,1.05)" font-size="31.5" fill="#000" stroke="#000" >0</text>
<g transform="translate(1202.2,366.8) scale(1,1.05)"><text x="0" y="0" font-size="31.5" fill="#000" stroke="#000" > 00</text><path transform="translate(0,0) scale(0.01538,-0.01538)" d="M763 0L583 0L583 1100C540 1058 470 1013 400 975C330 938 270 913 223 898L223 1058C300 1088 390 1138 460 1198C530 1258 580 1330 610 1405L763 1405Z" fill="#000" stroke="#000" stroke-width="0.3" vector-effect="non-scaling-stroke"/></g>
<text transform="translate(1285,366.8) scale(1,1.05)" font-size="31.5" fill="#000" stroke="#000" >200</text>
<text transform="translate(1367.08,366.8) scale(1,1.05)" font-size="31.5" fill="#000" stroke="#000" >300</text>
<text transform="translate(1449.2,366.8) scale(1,1.05)" font-size="31.5" fill="#000" stroke="#000" >400</text>
<text transform="translate(1116.63,408.3) scale(1,1.045)" font-size="31.35" fill="#000" stroke="#000" >Revolution Speed (RPM)</text>
<text transform="translate(1041.4,351.18) rotate(-90) scale(1,1.04)" font-size="31.45" fill="#000" stroke="#000">Degradation Rate (%)</text>
<polyline points="1147.7,312.7 1188.64,312.7 1229.58,312 1270.52,311 1352.4,310.19 1434.28,306.58" fill="none" stroke="#00a0ff" stroke-width="3" stroke-linejoin="round" stroke-linecap="round" />
<circle cx="1147.7" cy="312.7" r="3.3" fill="#00a0ff"/>
<circle cx="1146.8" cy="311.8" r="1.4" fill="#fff" opacity="0.9"/>
<circle cx="1188.64" cy="312.7" r="3.3" fill="#00a0ff"/>
<circle cx="1187.74" cy="311.8" r="1.4" fill="#fff" opacity="0.9"/>
<circle cx="1229.58" cy="312" r="3.3" fill="#00a0ff"/>
<circle cx="1228.68" cy="311.1" r="1.4" fill="#fff" opacity="0.9"/>
<circle cx="1270.52" cy="311" r="3.3" fill="#00a0ff"/>
<circle cx="1269.62" cy="310.1" r="1.4" fill="#fff" opacity="0.9"/>
<circle cx="1352.4" cy="310.19" r="3.3" fill="#00a0ff"/>
<circle cx="1351.5" cy="309.29" r="1.4" fill="#fff" opacity="0.9"/>
<circle cx="1434.28" cy="306.58" r="3.3" fill="#00a0ff"/>
<circle cx="1433.38" cy="305.68" r="1.4" fill="#fff" opacity="0.9"/>
<polyline points="1147.7,312.7 1188.64,311.1 1229.58,305.28 1270.52,182.98 1352.4,124.03 1434.28,113.8" fill="none" stroke="#ff3c3c" stroke-width="3" stroke-linejoin="round" stroke-linecap="round" />
<circle cx="1147.7" cy="312.7" r="3.3" fill="#ff3c3c"/>
<circle cx="1146.8" cy="311.8" r="1.4" fill="#fff" opacity="0.9"/>
<circle cx="1188.64" cy="311.1" r="3.3" fill="#ff3c3c"/>
<circle cx="1187.74" cy="310.2" r="1.4" fill="#fff" opacity="0.9"/>
<circle cx="1229.58" cy="305.28" r="3.3" fill="#ff3c3c"/>
<circle cx="1228.68" cy="304.38" r="1.4" fill="#fff" opacity="0.9"/>
<circle cx="1270.52" cy="182.98" r="3.3" fill="#ff3c3c"/>
<circle cx="1269.62" cy="182.08" r="1.4" fill="#fff" opacity="0.9"/>
<circle cx="1352.4" cy="124.03" r="3.3" fill="#ff3c3c"/>
<circle cx="1351.5" cy="123.13" r="1.4" fill="#fff" opacity="0.9"/>
<circle cx="1434.28" cy="113.8" r="3.3" fill="#ff3c3c"/>
<circle cx="1433.38" cy="112.9" r="1.4" fill="#fff" opacity="0.9"/>
<polyline points="1147.7,312.7 1188.64,311.9 1229.58,307.49 1270.52,303.28 1352.4,267.99 1434.28,248.34" fill="none" stroke="#aa00ff" stroke-width="3" stroke-linejoin="round" stroke-linecap="round" />
<circle cx="1147.7" cy="312.7" r="3.3" fill="#aa00ff"/>
<circle cx="1146.8" cy="311.8" r="1.4" fill="#fff" opacity="0.9"/>
<circle cx="1188.64" cy="311.9" r="3.3" fill="#aa00ff"/>
<circle cx="1187.74" cy="311" r="1.4" fill="#fff" opacity="0.9"/>
<circle cx="1229.58" cy="307.49" r="3.3" fill="#aa00ff"/>
<circle cx="1228.68" cy="306.59" r="1.4" fill="#fff" opacity="0.9"/>
<circle cx="1270.52" cy="303.28" r="3.3" fill="#aa00ff"/>
<circle cx="1269.62" cy="302.38" r="1.4" fill="#fff" opacity="0.9"/>
<circle cx="1352.4" cy="267.99" r="3.3" fill="#aa00ff"/>
<circle cx="1351.5" cy="267.09" r="1.4" fill="#fff" opacity="0.9"/>
<circle cx="1434.28" cy="248.34" r="3.3" fill="#aa00ff"/>
<circle cx="1433.38" cy="247.44" r="1.4" fill="#fff" opacity="0.9"/>
<line x1="1111.5" y1="76.7" x2="1152.5" y2="76.7" stroke="#ff3c3c" stroke-width="3" stroke-linecap="round"/>
<circle cx="1131.6" cy="76.7" r="3.3" fill="#ff3c3c"/>
<circle cx="1130.7" cy="75.8" r="1.4" fill="#fff" opacity="0.9"/>
<text transform="translate(1157.89,83.3) scale(1,1.04)" font-size="18.4" fill="#000" stroke="#000" >PTFE</text>
<line x1="1111.5" y1="99.6" x2="1152.5" y2="99.6" stroke="#aa00ff" stroke-width="3" stroke-linecap="round"/>
<circle cx="1131.6" cy="99.6" r="3.3" fill="#aa00ff"/>
<circle cx="1130.7" cy="98.7" r="1.4" fill="#fff" opacity="0.9"/>
<text transform="translate(1157.89,106.1) scale(1,1.04)" font-size="18.4" fill="#000" stroke="#000" >PDMS</text>
<line x1="1111.5" y1="122.3" x2="1152.5" y2="122.3" stroke="#00a0ff" stroke-width="3" stroke-linecap="round"/>
<circle cx="1131.6" cy="122.3" r="3.3" fill="#00a0ff"/>
<circle cx="1130.7" cy="121.4" r="1.4" fill="#fff" opacity="0.9"/>
<text transform="translate(1157.89,128.8) scale(1,1.04)" font-size="18.4" fill="#000" stroke="#000" >PP</text>
<rect x="1106.9" y="62" width="368.1" height="270.6" fill="none" stroke="#000" stroke-width="2" />
<text x="-0.53" y="466.8" font-size="46" fill="#231f20" stroke="#231f20" >d</text>
<text transform="translate(76.9,893.28) rotate(-90) scale(1,1.06)" font-size="36.6" fill="#000" stroke="#000">Intensity (arb.units)</text>
<line x1="103.8" y1="1037" x2="103.8" y2="1042" stroke="#000" stroke-width="1.7" />
<line x1="290.25" y1="1037" x2="290.25" y2="1042" stroke="#000" stroke-width="1.7" />
<line x1="476.7" y1="1037" x2="476.7" y2="1042" stroke="#000" stroke-width="1.7" />
<text transform="translate(71.22,1068.9) scale(1,1.065)" font-size="29.3" fill="#000" stroke="#000" >3450</text>
<text transform="translate(257.67,1068.9) scale(1,1.065)" font-size="29.3" fill="#000" stroke="#000" >3500</text>
<text transform="translate(444.12,1068.9) scale(1,1.065)" font-size="29.3" fill="#000" stroke="#000" >3550</text>
<text transform="translate(168.97,1105.8) scale(1,1.065)" font-size="29.3" fill="#000" stroke="#000" >Magnetic Field (G)</text>
<text transform="translate(109.67,503.6) scale(1,1.04)" font-size="30.9" fill="#000" stroke="#000" >PP</text>
<text transform="translate(107.47,698.3) scale(1,1.04)" font-size="30.9" fill="#000" stroke="#000" >PDMS</text>
<text transform="translate(107.57,889.8) scale(1,1.04)" font-size="30.9" fill="#000" stroke="#000" >PTFE</text>
<text transform="translate(360.42,504.2) scale(1,1.04)" font-size="30.7" fill="#f39800" stroke="#f39800" >50 RPM</text>
<polyline points="104.8,561.52 105.3,561.3 105.8,561.64 106.3,561.6 106.8,561.24 107.3,561.5 107.8,561.73 108.3,561.55 108.8,561.66 109.3,562.3 109.8,562.14 110.3,561.81 110.8,562.47 111.3,562.21 111.8,562.03 112.3,561.72 112.8,561.7 113.3,561.5 113.8,562.1 114.3,561.73 114.8,562.07 115.3,562.21 115.8,561.62 116.3,561.47 116.8,562.15 117.3,561.95 117.8,561.51 118.3,561.84 118.8,561.7 119.3,561.61 119.8,561.86 120.3,562.28 120.8,562.18 121.3,561.99 121.8,561.74 122.3,561.49 122.8,561.76 123.3,561.8 123.8,562.12 124.3,561.86 124.8,561.94 125.3,562.08 125.8,562.18 126.3,562.33 126.8,562.49 127.3,563.26 127.8,562.94 128.3,562.62 128.8,562.53 129.3,562.58 129.8,561.51 130.3,561.41 130.8,561.84 131.3,561.85 131.8,561.69 132.3,561.92 132.8,562.06 133.3,561.6 133.8,561.71 134.3,561.72 134.8,561.78 135.3,561.55 135.8,561.62 136.3,561.22 136.8,561.12 137.3,561.24 137.8,561.41 138.3,561.72 138.8,561.6 139.3,561.55 139.8,561.54 140.3,561.5 140.8,561.4 141.3,561.2 141.8,561.77 142.3,561.67 142.8,562.05 143.3,561.73 143.8,561.97 144.3,561.55 144.8,561.69 145.3,561.13 145.8,561.58 146.3,561.4 146.8,561.68 147.3,561.55 147.8,561.99 148.3,561.74 148.8,561.83 149.3,561.7 149.8,562.36 150.3,562.08 150.8,562.19 151.3,562.41 151.8,562.12 152.3,561.47 152.8,561.2 153.3,560.87 153.8,560.97 154.3,561.51 154.8,561.79 155.3,562.18 155.8,562.53 156.3,562.33 156.8,562.02 157.3,561.82 157.8,561.92 158.3,562.13 158.8,562.59 159.3,562.63 159.8,562.94 160.3,562.6 160.8,562.31 161.3,561.99 161.8,561.72 162.3,561.27 162.8,561.23 163.3,561.15 163.8,560.78 164.3,561.41 164.8,561.68 165.3,561.88 165.8,562.11 166.3,562.5 166.8,562.16 167.3,562.22 167.8,562.37 168.3,561.75 168.8,562.01 169.3,561.94 169.8,561.97 170.3,561.91 170.8,562.45 171.3,562.53 171.8,562.42 172.3,562.39 172.8,562.23 173.3,562.17 173.8,562.39 174.3,562.85 174.8,562.8 175.3,563.06 175.8,563.01 176.3,562.08 176.8,561.81 177.3,561.69 177.8,561.23 178.3,560.78 178.8,561.49 179.3,561.49 179.8,561.67 180.3,561.77 180.8,562.27 181.3,562.25 181.8,562.01 182.3,561.95 182.8,561.89 183.3,561.93 183.8,561.41 184.3,561.43 184.8,561.3 185.3,561.71 185.8,561.76 186.3,561.85 186.8,561.93 187.3,561.99 187.8,561.79 188.3,561.51 188.8,561.82 189.3,561.9 189.8,561.95 190.3,562.49 190.8,562.58 191.3,562.55 191.8,562.17 192.3,562.54 192.8,561.81 193.3,561.69 193.8,561.5 194.3,561.63 194.8,560.95 195.3,561.31 195.8,561.68 196.3,561.72 196.8,561.85 197.3,562.26 197.8,561.96 198.3,561.66 198.8,561.86 199.3,561.74 199.8,561.42 200.3,561.66 200.8,561.76 201.3,561.35 201.8,561.51 202.3,561.64 202.8,561.37 203.3,561.49 203.8,561.85 204.3,562.11 204.8,561.89 205.3,562.07 205.8,562.03 206.3,561.43 206.8,561.03 207.3,561.31 207.8,560.9 208.3,560.97 208.8,561.7 209.3,561.6 209.8,561.91 210.3,563.07 210.8,562.93 211.3,562.58 211.8,562.76 212.3,561.82 212.8,560.78 213.3,561.03 213.8,561.04 214.3,561.27 214.8,561.9 215.3,562.15 215.8,562.08 216.3,561.9 216.8,561.85 217.3,561.92 217.8,561.67 218.3,561.2 218.8,561.33 219.3,561.82 219.8,562.1 220.3,562.61 220.8,562.9 221.3,563.06 221.8,562.44 222.3,562.33 222.8,562.19 223.3,561.85 223.8,561.97 224.3,562.2 224.8,561.85 225.3,561.58 225.8,562.11 226.3,561.81 226.8,561.68 227.3,561.8 227.8,561.85 228.3,561.48 228.8,562.08 229.3,561.85 229.8,561.9 230.3,561.98 230.8,562.23 231.3,561.41 231.8,561.39 232.3,561.05 232.8,561.34 233.3,561.17 233.8,561.32 234.3,561.7 234.8,562.06 235.3,562.08 235.8,562.38 236.3,562.58 236.8,562.19 237.3,562.45 237.8,562.13 238.3,561.82 238.8,561.76 239.3,561.91 239.8,561.9 240.3,562.46 240.8,562.6 241.3,562.85 241.8,562.72 242.3,562.36 242.8,561.67 243.3,561.75 243.8,561.67 244.3,561.88 244.8,561.85 245.3,562 245.8,561.82 246.3,561.8 246.8,561.67 247.3,561.81 247.8,562.02 248.3,562.05 248.8,562.26 249.3,561.85 249.8,561.66 250.3,561.66 250.8,561.72 251.3,561.18 251.8,561.57 252.3,562.04 252.8,562.22 253.3,561.99 253.8,562.06 254.3,562.02 254.8,561.99 255.3,561.56 255.8,561.94 256.3,562.13 256.8,562.27 257.3,561.89 257.8,562.16 258.3,562.09 258.8,561.82 259.3,561.79 259.8,561.58 260.3,561.38 260.8,561.28 261.3,561.3 261.8,560.9 262.3,561.66 262.8,561.61 263.3,562.08 263.8,562.1 264.3,562.62 264.8,562.55 265.3,562.74 265.8,562.23 266.3,561.97 266.8,561.57 267.3,561.27 267.8,561.26 268.3,561.55 268.8,562.01 269.3,562.38 269.8,562.43 270.3,562.22 270.8,562.16 271.3,562.26 271.8,562 272.3,562.05 272.8,562.47 273.3,562.91 273.8,562.92 274.3,563.1 274.8,562.64 275.3,562.45 275.8,562.1 276.3,561.8 276.8,561.98 277.3,562.16 277.8,561.72 278.3,561.54 278.8,561.65 279.3,561.36 279.8,561.33 280.3,561.49 280.8,561.19 281.3,561.73 281.8,562.18 282.3,562.06 282.8,562.27 283.3,562.6 283.8,562.11 284.3,562.17 284.8,562.56 285.3,562.21 285.8,562.1 286.3,561.73 286.8,561.44 287.3,561.32 287.8,561.6 288.3,561.63 288.8,562.03 289.3,562 289.8,562.38 290.3,562.38 290.8,562.36 291.3,562.47 291.8,562.59 292.3,562.43 292.8,562.64 293.3,562.65 293.8,562.75 294.3,562.41 294.8,561.87 295.3,561.47 295.8,561.65 296.3,561.1 296.8,561.6 297.3,561.87 297.8,562.14 298.3,561.93 298.8,561.99 299.3,561.57 299.8,561.7 300.3,561.36 300.8,561.5 301.3,561.58 301.8,561.28 302.3,560.95 302.8,561.26 303.3,560.91 303.8,561.25 304.3,561.61 304.8,561.66 305.3,561.56 305.8,562.26 306.3,562.29 306.8,562.46 307.3,562.56 307.8,562.24 308.3,562.06 308.8,562.18 309.3,562.12 309.8,562.31 310.3,562.77 310.8,562.59 311.3,562.24 311.8,562.34 312.3,562.27 312.8,561.71 313.3,561.7 313.8,561.69 314.3,561.16 314.8,561.48 315.3,562.43 315.8,562.15 316.3,562.37 316.8,562.64 317.3,562.32 317.8,561.68 318.3,561.95 318.8,562.09 319.3,562.2 319.8,562.08 320.3,562.13 320.8,561.92 321.3,561.57 321.8,561.23 322.3,561.55 322.8,561.18 323.3,561.39 323.8,561.27 324.3,561.39 324.8,561.01 325.3,561.31 325.8,561.51 326.3,561.93 326.8,561.81 327.3,561.68 327.8,562.16 328.3,562.27 328.8,562.18 329.3,562 329.8,562.49 330.3,561.92 330.8,561.68 331.3,561.29 331.8,561.78 332.3,561.41 332.8,561.7 333.3,561.37 333.8,561.62 334.3,561.35 334.8,561.51 335.3,561.38 335.8,562.09 336.3,562.22 336.8,562 337.3,562.02 337.8,562.4 338.3,561.81 338.8,561.53 339.3,561.93 339.8,562.22 340.3,562.14 340.8,562.54 341.3,562.43 341.8,562.43 342.3,561.88 342.8,561.62 343.3,561.44 343.8,561.43 344.3,561.63 344.8,562.29 345.3,562.09 345.8,561.9 346.3,562.2 346.8,562.13 347.3,561.33 347.8,561.8 348.3,561.93 348.8,561.86 349.3,561.76 349.8,562.59 350.3,562.09 350.8,562.03 351.3,561.96 351.8,562.2 352.3,561.8 352.8,562.27 353.3,562.32 353.8,562.99 354.3,562.84 354.8,562.79 355.3,562.52 355.8,562.6 356.3,561.92 356.8,561.97 357.3,562.25 357.8,562.43 358.3,562.27 358.8,562.57 359.3,562.49 359.8,562.47 360.3,562.41 360.8,562.54 361.3,562.23 361.8,562.37 362.3,562.21 362.8,562.27 363.3,562.15 363.8,562.46 364.3,562.27 364.8,561.96 365.3,561.88 365.8,562.41 366.3,562 366.8,561.96 367.3,562.03 367.8,562.1 368.3,561.59 368.8,561.69 369.3,561.72 369.8,562.24 370.3,561.83 370.8,561.9 371.3,561.83 371.8,561.91 372.3,561.85 372.8,562.11 373.3,562.26 373.8,562.55 374.3,562.57 374.8,562.29 375.3,562.36 375.8,562.34 376.3,562.33 376.8,561.96 377.3,561.77 377.8,561.9 378.3,561.87 378.8,561.71 379.3,561.98 379.8,561.89 380.3,561.82 380.8,561.72 381.3,561.75 381.8,561.63 382.3,561.95 382.8,561.85 383.3,561.6 383.8,561.67 384.3,562.03 384.8,561.39 385.3,561.51 385.8,561.75 386.3,561.53 386.8,561.05 387.3,561.45 387.8,561.42 388.3,561.15 388.8,561.02 389.3,561.55 389.8,561.52 390.3,561.52 390.8,561.26 391.3,561.7 391.8,561.63 392.3,561.97 392.8,561.74 393.3,562.03 393.8,561.89 394.3,561.75 394.8,561.47 395.3,561.35 395.8,561.72 396.3,561.72 396.8,561.75 397.3,561.54 397.8,561.7 398.3,561.49 398.8,561.41 399.3,561.14 399.8,561.28 400.3,561.08 400.8,561.15 401.3,561.58 401.8,561.7 402.3,562.47 402.8,563.12 403.3,563.39 403.8,563.19 404.3,563.35 404.8,562.46 405.3,562.08 405.8,561.7 406.3,561.6 406.8,561.55 407.3,562.01 407.8,562.07 408.3,561.68 408.8,561.57 409.3,561.54 409.8,561.41 410.3,561.22 410.8,561.55 411.3,561.82 411.8,561.86 412.3,562.29 412.8,562.59 413.3,562.92 413.8,562.63 414.3,562.88 414.8,562.12 415.3,561.87 415.8,561.46 416.3,561.48 416.8,561.09 417.3,561.19 417.8,561.4 418.3,561.24 418.8,561.23 419.3,561.58 419.8,561.65 420.3,561.49 420.8,561.8 421.3,561.65 421.8,561.35 422.3,561.38 422.8,561.37 423.3,561.26 423.8,561.24 424.3,561.38 424.8,561.11 425.3,561.26 425.8,561.31 426.3,561.81 426.8,561.94 427.3,562.34 427.8,562.29 428.3,562.35 428.8,562.03 429.3,561.82 429.8,561.31 430.3,561.39 430.8,561.73 431.3,561.78 431.8,562.21 432.3,562.83 432.8,562.61 433.3,562.02 433.8,561.99 434.3,561.58 434.8,561.69 435.3,561.91 435.8,562.67 436.3,562.68 436.8,562.6 437.3,561.98 437.8,561.95 438.3,561.87 438.8,561.85 439.3,562.05 439.8,562.2 440.3,562.19 440.8,561.95 441.3,562.17 441.8,562.25 442.3,562.3 442.8,561.93 443.3,561.93 443.8,561.62 444.3,561.42 444.8,561.76 445.3,561.95 445.8,561.9 446.3,561.8 446.8,561.89 447.3,561.49 447.8,561.65 448.3,561.73 448.8,562.21 449.3,562.03 449.8,562.43 450.3,562.47 450.8,562.34 451.3,562.16 451.8,562.3 452.3,562.16 452.8,562.01 453.3,561.9 453.8,561.58 454.3,561.36 454.8,561.22 455.3,561.06 455.8,561.07 456.3,561.73 456.8,561.77 457.3,562.04 457.8,562.11 458.3,562.01 458.8,562.1 459.3,562.1 459.8,562.36 460.3,562.32 460.8,562.29 461.3,561.65 461.8,561.76 462.3,561.16 462.8,561.37 463.3,561.65 463.8,561.78 464.3,561.84 464.8,561.92 465.3,561.83 465.8,561.84 466.3,561.51 466.8,561.71 467.3,561.73 467.8,562.04 468.3,561.85 468.8,562.12 469.3,561.99 469.8,562.31 470.3,561.85 470.8,561.85 471.3,562.12 471.8,562.01 472.3,561.77 472.8,562.23 473.3,562.39 473.8,562.25 474.3,562.52 474.8,562.53 475.3,562.47" fill="none" stroke="#000" stroke-width="2.9" stroke-linejoin="round" stroke-linecap="round" stroke-linecap="butt"/>
<polyline points="104.8,752.1 105.3,751.83 105.8,751.3 106.3,750.97 106.8,751.18 107.3,751.45 107.8,751.56 108.3,751.58 108.8,751.89 109.3,751.84 109.8,751.48 110.3,751.48 110.8,751.75 111.3,752.26 111.8,752.32 112.3,752.61 112.8,752.76 113.3,752.74 113.8,752.42 114.3,752.3 114.8,752.37 115.3,752.33 115.8,752.44 116.3,752.27 116.8,752.11 117.3,752.16 117.8,751.96 118.3,751.96 118.8,751.98 119.3,752.45 119.8,752.34 120.3,752.37 120.8,752.36 121.3,752.08 121.8,751.75 122.3,751.66 122.8,752.04 123.3,751.88 123.8,752.25 124.3,752.47 124.8,752.52 125.3,751.76 125.8,751.99 126.3,751.76 126.8,751.78 127.3,751.56 127.8,751.8 128.3,751.86 128.8,752.26 129.3,751.82 129.8,751.82 130.3,751.9 130.8,751.79 131.3,751.51 131.8,751.86 132.3,751.93 132.8,752.07 133.3,752.15 133.8,752.03 134.3,751.65 134.8,751.7 135.3,751.74 135.8,751.12 136.3,751.2 136.8,751.29 137.3,751.43 137.8,751.21 138.3,751.59 138.8,751.93 139.3,752.24 139.8,752.55 140.3,752.58 140.8,752.47 141.3,752.23 141.8,751.52 142.3,751.23 142.8,751.29 143.3,751.13 143.8,751.15 144.3,751.64 144.8,751.12 145.3,751.04 145.8,751.09 146.3,750.88 146.8,750.97 147.3,751.77 147.8,751.84 148.3,752.04 148.8,752.24 149.3,751.88 149.8,751.88 150.3,751.62 150.8,751.72 151.3,751.4 151.8,751.58 152.3,751.22 152.8,751.86 153.3,751.92 153.8,752.03 154.3,752.18 154.8,752.02 155.3,751.6 155.8,751.33 156.3,751.61 156.8,751.38 157.3,751.56 157.8,751.38 158.3,751.35 158.8,751.35 159.3,751.67 159.8,751.87 160.3,752.31 160.8,752.71 161.3,752.26 161.8,752.35 162.3,751.84 162.8,751.57 163.3,751.74 163.8,751.99 164.3,751.8 164.8,752.22 165.3,752.23 165.8,751.82 166.3,751.7 166.8,752.02 167.3,752.17 167.8,752.12 168.3,752.18 168.8,752.49 169.3,752.48 169.8,752.37 170.3,752.57 170.8,752.44 171.3,752.07 171.8,751.74 172.3,751.88 172.8,751.94 173.3,752.02 173.8,752.13 174.3,752.31 174.8,752.45 175.3,752.53 175.8,752.35 176.3,752.46 176.8,752.08 177.3,751.48 177.8,751.22 178.3,751.38 178.8,751.6 179.3,752.18 179.8,752.61 180.3,752.85 180.8,752.73 181.3,752.28 181.8,752.11 182.3,752.51 182.8,752.3 183.3,752.17 183.8,752.47 184.3,752.67 184.8,751.87 185.3,751.96 185.8,752.08 186.3,752.3 186.8,752.16 187.3,752.45 187.8,752.71 188.3,752.75 188.8,752.33 189.3,752.56 189.8,752.31 190.3,752.35 190.8,752.43 191.3,752.35 191.8,751.95 192.3,752.17 192.8,751.74 193.3,751.71 193.8,752.16 194.3,751.66 194.8,751.51 195.3,751.41 195.8,751.85 196.3,751.19 196.8,751.61 197.3,751.49 197.8,751.4 198.3,751.14 198.8,751.66 199.3,752.05 199.8,752.17 200.3,752.37 200.8,752.48 201.3,752.59 201.8,752.2 202.3,752.58 202.8,752.32 203.3,752.46 203.8,752.29 204.3,752.34 204.8,752.16 205.3,752.54 205.8,752.53 206.3,752.46 206.8,752.41 207.3,752.48 207.8,752.1 208.3,751.36 208.8,751.57 209.3,751.57 209.8,751.69 210.3,751.65 210.8,751.39 211.3,751.28 211.8,751.39 212.3,751.49 212.8,751.83 213.3,752.52 213.8,752.59 214.3,752.47 214.8,752.14 215.3,751.74 215.8,751.78 216.3,751.48 216.8,751.47 217.3,751.6 217.8,752.09 218.3,751.76 218.8,752.37 219.3,752.34 219.8,752.37 220.3,752.37 220.8,752.64 221.3,752.24 221.8,752.76 222.3,752.77 222.8,752.66 223.3,752.22 223.8,752.02 224.3,751.88 224.8,751.73 225.3,751.43 225.8,751.69 226.3,751.78 226.8,751.68 227.3,751.72 227.8,752.14 228.3,752.1 228.8,752.38 229.3,752.13 229.8,751.98 230.3,752.14 230.8,752.33 231.3,752.09 231.8,752.15 232.3,752.13 232.8,752.09 233.3,752.38 233.8,752.56 234.3,752.65 234.8,752.95 235.3,752.6 235.8,752.4 236.3,752.33 236.8,752.31 237.3,752.44 237.8,752.84 238.3,753.03 238.8,752.53 239.3,752.9 239.8,752.7 240.3,752.22 240.8,751.93 241.3,752.59 241.8,752.45 242.3,752.48 242.8,752.61 243.3,752.62 243.8,752.56 244.3,752.28 244.8,751.9 245.3,751.74 245.8,751.7 246.3,751.59 246.8,752.1 247.3,752 247.8,752.24 248.3,752.25 248.8,752.24 249.3,752.04 249.8,752.61 250.3,752.47 250.8,752.37 251.3,752.01 251.8,751.7 252.3,751.71 252.8,751.68 253.3,751.95 253.8,752.4 254.3,752.5 254.8,752.47 255.3,752.5 255.8,752.17 256.3,751.76 256.8,751.88 257.3,751.57 257.8,751.52 258.3,751.88 258.8,751.96 259.3,752.15 259.8,752.37 260.3,752.32 260.8,752.01 261.3,752.41 261.8,751.77 262.3,751.49 262.8,751.6 263.3,751.78 263.8,751.55 264.3,751.89 264.8,751.95 265.3,751.93 265.8,752.16 266.3,752.29 266.8,752.11 267.3,752.56 267.8,752.16 268.3,751.9 268.8,751.91 269.3,752.21 269.8,751.87 270.3,752.21 270.8,752.32 271.3,752.14 271.8,752.03 272.3,751.39 272.8,751.55 273.3,751.26 273.8,751.5 274.3,751.56 274.8,752.33 275.3,752.16 275.8,752.43 276.3,752.15 276.8,752.04 277.3,751.85 277.8,751.75 278.3,752.08 278.8,752.31 279.3,751.82 279.8,752.04 280.3,751.93 280.8,751.45 281.3,751.17 281.8,751.5 282.3,751.36 282.8,751.59 283.3,751.33 283.8,751.45 284.3,751.65 284.8,751.98 285.3,751.96 285.8,752.01 286.3,751.93 286.8,751.99 287.3,751.42 287.8,751.36 288.3,751.73 288.8,751.81 289.3,751.72 289.8,751.77 290.3,751.75 290.8,751.56 291.3,751.53 291.8,751.41 292.3,751.64 292.8,751.94 293.3,752.12 293.8,752.26 294.3,752.14 294.8,751.81 295.3,751.86 295.8,751.75 296.3,751.67 296.8,751.61 297.3,751.81 297.8,751.5 298.3,751.31 298.8,751.14 299.3,751.07 299.8,751.14 300.3,751.52 300.8,751.56 301.3,751.72 301.8,751.8 302.3,751.93 302.8,752.08 303.3,751.97 303.8,751.9 304.3,752.44 304.8,752.37 305.3,752 305.8,751.82 306.3,751.84 306.8,751.73 307.3,751.96 307.8,752.07 308.3,752.39 308.8,752.27 309.3,751.68 309.8,751.14 310.3,751.24 310.8,751.34 311.3,751.2 311.8,751.88 312.3,751.75 312.8,751.78 313.3,751.74 313.8,752.1 314.3,751.96 314.8,752.38 315.3,752.38 315.8,752.45 316.3,752.31 316.8,752.02 317.3,751.65 317.8,751.23 318.3,751.44 318.8,751.69 319.3,752.13 319.8,753.03 320.3,753.33 320.8,753.23 321.3,752.77 321.8,752.42 322.3,752.3 322.8,752.26 323.3,752.12 323.8,752.47 324.3,752.12 324.8,751.46 325.3,751.06 325.8,750.63 326.3,750.73 326.8,751.35 327.3,751.49 327.8,751.85 328.3,752.09 328.8,752.03 329.3,751.98 329.8,752.35 330.3,752.61 330.8,752.94 331.3,752.81 331.8,752.47 332.3,752.01 332.8,751.8 333.3,751.82 333.8,751.85 334.3,752.39 334.8,752.66 335.3,752.53 335.8,752.37 336.3,752.38 336.8,751.81 337.3,751.46 337.8,751.53 338.3,751.45 338.8,751.37 339.3,751.84 339.8,752.01 340.3,752.22 340.8,752.35 341.3,752.73 341.8,752.57 342.3,752.23 342.8,752.21 343.3,752.17 343.8,751.42 344.3,751.34 344.8,751.76 345.3,751.21 345.8,751.12 346.3,751.67 346.8,751.95 347.3,752.16 347.8,752.7 348.3,753.08 348.8,752.42 349.3,751.96 349.8,751.75 350.3,750.91 350.8,750.83 351.3,751.56 351.8,751.55 352.3,751.43 352.8,751.81 353.3,751.64 353.8,751.43 354.3,751.6 354.8,751.46 355.3,751.75 355.8,751.68 356.3,751.89 356.8,751.96 357.3,751.86 357.8,751.47 358.3,751.56 358.8,751.25 359.3,751.28 359.8,751.77 360.3,752.09 360.8,751.71 361.3,751.56 361.8,751.58 362.3,751.18 362.8,751.41 363.3,751.76 363.8,752.13 364.3,751.81 364.8,752.02 365.3,751.14 365.8,751.12 366.3,751.13 366.8,751.12 367.3,750.96 367.8,751.59 368.3,751.65 368.8,751.35 369.3,751.69 369.8,751.52 370.3,751.77 370.8,751.45 371.3,751.45 371.8,751.59 372.3,751.73 372.8,751.13 373.3,751.45 373.8,751.43 374.3,750.9 374.8,750.97 375.3,751.16 375.8,750.94 376.3,750.91 376.8,751.5 377.3,751.51 377.8,751.88 378.3,751.79 378.8,752.13 379.3,751.51 379.8,751.55 380.3,751.48 380.8,751.67 381.3,751.13 381.8,751.28 382.3,751.34 382.8,751.33 383.3,751.23 383.8,751.59 384.3,751.72 384.8,751.4 385.3,751.25 385.8,751.29 386.3,751.45 386.8,751.41 387.3,751.73 387.8,751.23 388.3,751.39 388.8,751.22 389.3,751.04 389.8,750.96 390.3,751.21 390.8,751.27 391.3,751.49 391.8,751.83 392.3,751.82 392.8,752.46 393.3,752.61 393.8,752.26 394.3,752.1 394.8,751.86 395.3,751.47 395.8,751.44 396.3,751.92 396.8,751.86 397.3,751.83 397.8,751.81 398.3,751.95 398.8,751.71 399.3,752.08 399.8,752.64 400.3,753.02 400.8,752.85 401.3,752.68 401.8,752.5 402.3,752.87 402.8,752.42 403.3,751.89 403.8,752.49 404.3,752.48 404.8,751.79 405.3,751.78 405.8,751.84 406.3,751.54 406.8,751.48 407.3,751.48 407.8,751.52 408.3,751.76 408.8,751.84 409.3,751.77 409.8,752.21 410.3,752.12 410.8,752.08 411.3,751.74 411.8,751.66 412.3,751.35 412.8,751.75 413.3,752.14 413.8,752.02 414.3,752.41 414.8,752.45 415.3,752.57 415.8,752.27 416.3,752.32 416.8,752.22 417.3,752.33 417.8,751.89 418.3,751.93 418.8,752.14 419.3,752.04 419.8,751.53 420.3,751.37 420.8,751.38 421.3,751.4 421.8,751.22 422.3,751.21 422.8,751.76 423.3,751.69 423.8,751.4 424.3,751.86 424.8,752.49 425.3,752.42 425.8,752.67 426.3,753.02 426.8,752.46 427.3,752.22 427.8,752.08 428.3,752.03 428.8,752.01 429.3,752.01 429.8,751.87 430.3,751.72 430.8,751.54 431.3,751.25 431.8,751.07 432.3,750.94 432.8,751.08 433.3,751.12 433.8,751.43 434.3,751.42 434.8,751.59 435.3,751.72 435.8,751.3 436.3,750.94 436.8,750.98 437.3,751.34 437.8,751.15 438.3,751.45 438.8,751.72 439.3,752.06 439.8,751.99 440.3,752.24 440.8,752.56 441.3,752.6 441.8,752.78 442.3,752.76 442.8,752.76 443.3,752.17 443.8,752.17 444.3,752.02 444.8,751.88 445.3,751.58 445.8,751.96 446.3,751.99 446.8,752.01 447.3,752.01 447.8,751.83 448.3,751.57 448.8,751.31 449.3,750.88 449.8,750.74 450.3,750.79 450.8,750.67 451.3,750.41 451.8,750.7 452.3,750.68 452.8,751.34 453.3,751.91 453.8,752.16 454.3,752.15 454.8,752.06 455.3,751.42 455.8,751.16 456.3,751.32 456.8,751.29 457.3,751.69 457.8,752 458.3,752.49 458.8,752.22 459.3,752.5 459.8,752.24 460.3,751.76 460.8,751.27 461.3,751.2 461.8,751.05 462.3,751.72 462.8,752.35 463.3,752.81 463.8,753.42 464.3,753.09 464.8,752.59 465.3,752.34 465.8,752.04 466.3,751.56 466.8,751.46 467.3,751.83 467.8,752.05 468.3,752.03 468.8,752.14 469.3,752.61 469.8,751.89 470.3,751.84 470.8,751.81 471.3,751.88 471.8,751.75 472.3,752 472.8,751.82 473.3,751.7 473.8,751.94 474.3,752.08 474.8,752.07 475.3,751.86" fill="none" stroke="#000" stroke-width="2.9" stroke-linejoin="round" stroke-linecap="round" stroke-linecap="butt"/>
<polyline points="104.8,942.56 105.3,941.75 105.8,941.8 106.3,941.56 106.8,941.29 107.3,940.93 107.8,941.12 108.3,941.15 108.8,941.12 109.3,941.44 109.8,941.5 110.3,940.92 110.8,941.24 111.3,941.35 111.8,941.1 112.3,941.28 112.8,942.02 113.3,941.77 113.8,941.67 114.3,941.88 114.8,941.49 115.3,941.75 115.8,941.46 116.3,941.6 116.8,941.57 117.3,941.95 117.8,941.58 118.3,941.96 118.8,941.22 119.3,941.16 119.8,941.05 120.3,940.98 120.8,941.18 121.3,941.73 121.8,941.73 122.3,941.33 122.8,941.48 123.3,940.8 123.8,940.67 124.3,941.2 124.8,941.79 125.3,941.73 125.8,942.12 126.3,942.14 126.8,941.4 127.3,941.34 127.8,940.88 128.3,940.9 128.8,940.84 129.3,941.09 129.8,940.76 130.3,941.6 130.8,941.77 131.3,942.03 131.8,941.59 132.3,941.66 132.8,941.27 133.3,940.83 133.8,941 134.3,941.63 134.8,941.79 135.3,941.71 135.8,942.1 136.3,941.97 136.8,941.94 137.3,941.89 137.8,942.34 138.3,942.1 138.8,941.94 139.3,941.77 139.8,941.7 140.3,941.14 140.8,941.18 141.3,941.57 141.8,941.08 142.3,941.21 142.8,941.38 143.3,941.38 143.8,941.39 144.3,941.58 144.8,941.73 145.3,941.72 145.8,941.77 146.3,941.55 146.8,941.76 147.3,941.5 147.8,941.65 148.3,942.09 148.8,942.37 149.3,942.63 149.8,942.87 150.3,942.67 150.8,942.35 151.3,942.57 151.8,942.11 152.3,942.17 152.8,942.5 153.3,942.43 153.8,942.15 154.3,942.74 154.8,943.04 155.3,943.11 155.8,943.41 156.3,943.32 156.8,943.2 157.3,942.75 157.8,942.54 158.3,942.07 158.8,942.15 159.3,942.29 159.8,942.22 160.3,942.21 160.8,942.45 161.3,942.31 161.8,942.2 162.3,942.3 162.8,941.99 163.3,941.63 163.8,941.78 164.3,941.72 164.8,941.91 165.3,942.22 165.8,942.49 166.3,941.99 166.8,942.16 167.3,941.71 167.8,941.89 168.3,941.6 168.8,941.8 169.3,941.53 169.8,941.64 170.3,941.26 170.8,941.7 171.3,942 171.8,942.05 172.3,942.07 172.8,942.04 173.3,941.74 173.8,941.48 174.3,941.39 174.8,941.64 175.3,941.78 175.8,941.71 176.3,941.69 176.8,941.98 177.3,941.85 177.8,941.94 178.3,942.17 178.8,942.43 179.3,942.19 179.8,942.41 180.3,942.54 180.8,941.86 181.3,941.7 181.8,942.31 182.3,941.78 182.8,941.63 183.3,942.48 183.8,942.52 184.3,942.17 184.8,942.17 185.3,941.87 185.8,941.6 186.3,941.44 186.8,940.92 187.3,941.31 187.8,941.64 188.3,941.69 188.8,941.76 189.3,942.05 189.8,941.9 190.3,941.69 190.8,941.8 191.3,941.96 191.8,941.92 192.3,942.1 192.8,942.02 193.3,941.88 193.8,941.68 194.3,941.95 194.8,941.91 195.3,942.61 195.8,942.98 196.3,943.01 196.8,942.49 197.3,942.48 197.8,941.97 198.3,941.59 198.8,941.44 199.3,941.81 199.8,941.75 200.3,941.89 200.8,941.99 201.3,942.03 201.8,941.42 202.3,941.32 202.8,941.09 203.3,940.91 203.8,941.31 204.3,941.78 204.8,942.16 205.3,942.34 205.8,942.6 206.3,942.5 206.8,942.7 207.3,942.1 207.8,942.3 208.3,942.17 208.8,941.85 209.3,941.81 209.8,942.16 210.3,942.2 210.8,942.33 211.3,942.62 211.8,942.14 212.3,942.42 212.8,942.47 213.3,942.48 213.8,942.5 214.3,943.11 214.8,942.56 215.3,942.39 215.8,942.23 216.3,941.92 216.8,941.73 217.3,942 217.8,942.21 218.3,942.41 218.8,942.28 219.3,941.78 219.8,941.68 220.3,941.27 220.8,940.87 221.3,940.9 221.8,941.28 222.3,941.05 222.8,940.94 223.3,941.33 223.8,941.7 224.3,941.58 224.8,941.58 225.3,941.69 225.8,941.88 226.3,941.72 226.8,942.26 227.3,942.33 227.8,942.32 228.3,942.1 228.8,942.04 229.3,941.68 229.8,941.56 230.3,941.75 230.8,941.85 231.3,941.87 231.8,941.9 232.3,942.1 232.8,941.5 233.3,941.84 233.8,942.11 234.3,942.25 234.8,942.42 235.3,942.93 235.8,942.85 236.3,942.32 236.8,942.07 237.3,941.9 237.8,941.81 238.3,941.45 238.8,941.69 239.3,941.47 239.8,941.32 240.3,941.46 240.8,941.52 241.3,941.85 241.8,942.48 242.3,942.61 242.8,942.73 243.3,942.67 243.8,942.46 244.3,941.95 244.8,942.25 245.3,941.89 245.8,941.68 246.3,941.51 246.8,942.05 247.3,941.84 247.8,941.88 248.3,941.89 248.8,942.05 249.3,941.7 249.8,941.34 250.3,941.2 250.8,941.36 251.3,941.64 251.8,941.4 252.3,941.8 252.8,941.92 253.3,941.32 253.8,941.02 254.3,941.01 254.8,941.17 255.3,941.25 255.8,941.73 256.3,941.48 256.8,941.75 257.3,941.14 257.8,941.23 258.3,941.54 258.8,941.59 259.3,941.74 259.8,942.47 260.3,942.38 260.8,942.32 261.3,942.6 261.8,942.31 262.3,941.57 262.8,941.38 263.3,940.82 263.8,941.32 264.3,941.48 264.8,941.88 265.3,941.82 265.8,942.51 266.3,941.75 266.8,942.01 267.3,942.28 267.8,942.59 268.3,942.08 268.8,942.32 269.3,941.71 269.8,941.62 270.3,941.96 270.8,942.3 271.3,942.54 271.8,942.67 272.3,942.6 272.8,942.01 273.3,941.72 273.8,941.65 274.3,942.35 274.8,942.29 275.3,942.52 275.8,942.21 276.3,942.09 276.8,941.35 277.3,941.03 277.8,940.7 278.3,941.14 278.8,941.02 279.3,941.36 279.8,941.62 280.3,941.94 280.8,942.23 281.3,942.49 281.8,942.51 282.3,942.88 282.8,942.92 283.3,942.39 283.8,942.04 284.3,941.54 284.8,941.3 285.3,941.16 285.8,941.49 286.3,941.84 286.8,942 287.3,941.97 287.8,942.33 288.3,942.24 288.8,942.26 289.3,942.39 289.8,942.15 290.3,941.82 290.8,941.39 291.3,941.35 291.8,941.28 292.3,941.77 292.8,941.56 293.3,941.99 293.8,941.91 294.3,941.98 294.8,941.77 295.3,941.88 295.8,941.62 296.3,941.23 296.8,941.16 297.3,940.9 297.8,941.11 298.3,941.26 298.8,941.43 299.3,941.39 299.8,941.15 300.3,941.02 300.8,941.19 301.3,941.05 301.8,941.15 302.3,941.71 302.8,941.64 303.3,941.59 303.8,941.79 304.3,942.38 304.8,942.54 305.3,942.95 305.8,942.76 306.3,942.99 306.8,942.42 307.3,942.19 307.8,941.81 308.3,941.99 308.8,941.68 309.3,941.78 309.8,942.09 310.3,941.92 310.8,941.59 311.3,941.87 311.8,941.98 312.3,941.51 312.8,941.94 313.3,942.32 313.8,942.33 314.3,942.46 314.8,942.4 315.3,942.42 315.8,942.37 316.3,942.1 316.8,941.91 317.3,941.76 317.8,941.29 318.3,941.48 318.8,941.39 319.3,941.65 319.8,942.17 320.3,942.38 320.8,941.95 321.3,941.7 321.8,941.31 322.3,940.73 322.8,941.18 323.3,941.01 323.8,941.51 324.3,940.93 324.8,941.21 325.3,941.16 325.8,941.43 326.3,941.23 326.8,941.73 327.3,941.89 327.8,941.79 328.3,941.84 328.8,941.57 329.3,941.74 329.8,941.87 330.3,942.18 330.8,942.27 331.3,942.76 331.8,942.57 332.3,942.52 332.8,942.41 333.3,942.15 333.8,942.13 334.3,942.02 334.8,941.7 335.3,941.27 335.8,941.6 336.3,941.4 336.8,941.56 337.3,942.01 337.8,942.17 338.3,942.21 338.8,942.48 339.3,942.51 339.8,942.3 340.3,942.3 340.8,942.15 341.3,942.29 341.8,942.33 342.3,942.44 342.8,942.33 343.3,942.49 343.8,942.11 344.3,941.99 344.8,941.53 345.3,941.79 345.8,941.74 346.3,941.94 346.8,942.2 347.3,942.27 347.8,942.03 348.3,941.8 348.8,941.35 349.3,941.15 349.8,941.14 350.3,941.43 350.8,941.38 351.3,941.66 351.8,941.93 352.3,942.12 352.8,941.51 353.3,941.73 353.8,941.7 354.3,941.86 354.8,941.63 355.3,941.76 355.8,941.1 356.3,941.12 356.8,941.15 357.3,941.36 357.8,941.31 358.3,941.98 358.8,942.07 359.3,941.64 359.8,942.22 360.3,942.88 360.8,943.17 361.3,943.6 361.8,943.41 362.3,942.42 362.8,942.14 363.3,941.88 363.8,941.52 364.3,941.7 364.8,942.29 365.3,942.25 365.8,942.22 366.3,942.32 366.8,942.3 367.3,942.06 367.8,942.24 368.3,942.13 368.8,942.46 369.3,942.65 369.8,942.75 370.3,942.69 370.8,942.63 371.3,942.15 371.8,941.93 372.3,941.92 372.8,941.82 373.3,942.39 373.8,942.55 374.3,942.39 374.8,942.21 375.3,941.65 375.8,941.35 376.3,941.43 376.8,941.74 377.3,942 377.8,942.52 378.3,942.46 378.8,942.4 379.3,942.38 379.8,942.08 380.3,942.17 380.8,942.38 381.3,941.87 381.8,941.77 382.3,941.74 382.8,941.64 383.3,941.28 383.8,941.96 384.3,942.26 384.8,942.4 385.3,942.19 385.8,942.12 386.3,941.93 386.8,941.48 387.3,941.68 387.8,941.48 388.3,941.84 388.8,941.81 389.3,941.76 389.8,941.49 390.3,941.83 390.8,941.66 391.3,940.93 391.8,941.23 392.3,941.74 392.8,941.61 393.3,941.24 393.8,942.15 394.3,942.15 394.8,941.86 395.3,942.1 395.8,942.13 396.3,941.71 396.8,941.4 397.3,941.11 397.8,940.9 398.3,940.94 398.8,941.45 399.3,941.81 399.8,942.24 400.3,941.94 400.8,942.13 401.3,941.74 401.8,941.66 402.3,941.58 402.8,941.77 403.3,941.62 403.8,941.86 404.3,942.32 404.8,942.68 405.3,942.8 405.8,942.83 406.3,942.66 406.8,942.26 407.3,942.19 407.8,942.2 408.3,942.21 408.8,942.4 409.3,942.14 409.8,941.56 410.3,941.73 410.8,941.85 411.3,941.39 411.8,941.49 412.3,941.59 412.8,941.42 413.3,941.3 413.8,941.66 414.3,941.64 414.8,941.6 415.3,941.88 415.8,941.84 416.3,941.88 416.8,942.09 417.3,942.15 417.8,941.97 418.3,941.84 418.8,941.73 419.3,941.37 419.8,941.25 420.3,941.26 420.8,941.43 421.3,941.4 421.8,941.72 422.3,942.14 422.8,942.17 423.3,942.56 423.8,942.37 424.3,942.19 424.8,942.11 425.3,942.28 425.8,942.15 426.3,942.2 426.8,942.04 427.3,941.69 427.8,941.68 428.3,941.36 428.8,941.43 429.3,941.8 429.8,942.11 430.3,941.71 430.8,942.36 431.3,942.45 431.8,942.37 432.3,942.45 432.8,942.54 433.3,942.25 433.8,942.19 434.3,941.93 434.8,941.54 435.3,941.7 435.8,941.57 436.3,941.56 436.8,941.66 437.3,941.81 437.8,941.9 438.3,942.12 438.8,942.1 439.3,942.26 439.8,941.9 440.3,941.48 440.8,941.09 441.3,940.94 441.8,941.04 442.3,940.99 442.8,941.35 443.3,941.65 443.8,942.33 444.3,942.07 444.8,942.63 445.3,942.84 445.8,942.9 446.3,942.21 446.8,942.24 447.3,941.89 447.8,941.58 448.3,941.53 448.8,942.03 449.3,942.23 449.8,942.67 450.3,942.89 450.8,942.56 451.3,942.41 451.8,942.5 452.3,942.27 452.8,941.83 453.3,942.04 453.8,941.93 454.3,941.87 454.8,941.52 455.3,941.65 455.8,942.05 456.3,942.3 456.8,942.12 457.3,942.44 457.8,942.46 458.3,941.81 458.8,941.43 459.3,941.46 459.8,941.26 460.3,941.3 460.8,941.57 461.3,941.39 461.8,941.3 462.3,941.23 462.8,941.25 463.3,941.24 463.8,941.41 464.3,941.52 464.8,941.98 465.3,942.12 465.8,941.78 466.3,941.82 466.8,941.49 467.3,940.96 467.8,941.04 468.3,941.49 468.8,941.84 469.3,942.32 469.8,942.62 470.3,942.44 470.8,942.16 471.3,942.18 471.8,941.5 472.3,941.7 472.8,941.53 473.3,941.8 473.8,941.77 474.3,942.14 474.8,942.35 475.3,942.71" fill="none" stroke="#000" stroke-width="2.9" stroke-linejoin="round" stroke-linecap="round" stroke-linecap="butt"/>
<line x1="103.8" y1="656.9" x2="476.7" y2="656.9" stroke="#000" stroke-width="2" />
<line x1="103.8" y1="846.9" x2="476.7" y2="846.9" stroke="#000" stroke-width="2" />
<rect x="103.8" y="466.8" width="372.9" height="570.2" fill="none" stroke="#000" stroke-width="2" />
<text x="516.75" y="466.8" font-size="46" fill="#231f20" stroke="#231f20" >e</text>
<text transform="translate(576,893.28) rotate(-90) scale(1,1.06)" font-size="36.6" fill="#000" stroke="#000">Intensity (arb.units)</text>
<line x1="602.9" y1="1037" x2="602.9" y2="1042" stroke="#000" stroke-width="1.7" />
<line x1="789.35" y1="1037" x2="789.35" y2="1042" stroke="#000" stroke-width="1.7" />
<line x1="975.8" y1="1037" x2="975.8" y2="1042" stroke="#000" stroke-width="1.7" />
<text transform="translate(570.32,1068.9) scale(1,1.065)" font-size="29.3" fill="#000" stroke="#000" >3450</text>
<text transform="translate(756.77,1068.9) scale(1,1.065)" font-size="29.3" fill="#000" stroke="#000" >3500</text>
<text transform="translate(943.22,1068.9) scale(1,1.065)" font-size="29.3" fill="#000" stroke="#000" >3550</text>
<text transform="translate(668.07,1105.8) scale(1,1.065)" font-size="29.3" fill="#000" stroke="#000" >Magnetic Field (G)</text>
<text transform="translate(614.27,503.6) scale(1,1.04)" font-size="30.9" fill="#000" stroke="#000" >PP</text>
<text transform="translate(611.87,698.3) scale(1,1.04)" font-size="30.9" fill="#000" stroke="#000" >PDMS</text>
<text transform="translate(611.87,889.8) scale(1,1.04)" font-size="30.9" fill="#000" stroke="#000" >PTFE</text>
<g transform="translate(844.95,504.2) scale(1,1.04)"><text x="0" y="0" font-size="30.7" fill="#e9541a" stroke="#e9541a" > 50 RPM</text><path transform="translate(0,0) scale(0.01499,-0.01499)" d="M763 0L583 0L583 1100C540 1058 470 1013 400 975C330 938 270 913 223 898L223 1058C300 1088 390 1138 460 1198C530 1258 580 1330 610 1405L763 1405Z" fill="#e9541a" stroke="#e9541a" stroke-width="0.3" vector-effect="non-scaling-stroke"/></g>
<polyline points="603.9,561.55 604.4,561.39 604.9,561.41 605.4,561.44 605.9,561.32 606.4,561.14 606.9,561.51 607.4,562.11 607.9,562.28 608.4,562.47 608.9,562.69 609.4,562.46 609.9,561.8 610.4,561.85 610.9,561.74 611.4,561.34 611.9,561.44 612.4,561.28 612.9,561.41 613.4,561.79 613.9,562.57 614.4,562.63 614.9,562.88 615.4,562.59 615.9,562.43 616.4,561.86 616.9,562.1 617.4,562.08 617.9,561.82 618.4,562.04 618.9,561.93 619.4,562.01 619.9,562.01 620.4,562.35 620.9,561.64 621.4,561.54 621.9,561.37 622.4,561.57 622.9,561.49 623.4,561.88 623.9,561.7 624.4,561.62 624.9,561.34 625.4,561.17 625.9,561.22 626.4,561.52 626.9,561.32 627.4,561.38 627.9,561.52 628.4,561.38 628.9,561.49 629.4,561.59 629.9,561.87 630.4,562.29 630.9,562.57 631.4,562.48 631.9,562.44 632.4,562.33 632.9,561.94 633.4,562.02 633.9,562.14 634.4,562.38 634.9,562.17 635.4,562.25 635.9,561.72 636.4,561.35 636.9,561.29 637.4,561.17 637.9,561.01 638.4,561.43 638.9,562.1 639.4,562.06 639.9,562.21 640.4,562.51 640.9,562.53 641.4,562.3 641.9,562.11 642.4,562.09 642.9,562.15 643.4,561.7 643.9,561.61 644.4,562.05 644.9,562.38 645.4,562.02 645.9,562.2 646.4,562.14 646.9,561.63 647.4,561.43 647.9,561.38 648.4,561.58 648.9,561.39 649.4,561.5 649.9,561.35 650.4,561.54 650.9,560.88 651.4,561.32 651.9,561.4 652.4,561.56 652.9,561.82 653.4,562.36 653.9,562.24 654.4,562.32 654.9,562.48 655.4,562.36 655.9,562.6 656.4,562.5 656.9,562.25 657.4,562.12 657.9,561.74 658.4,561.49 658.9,561.43 659.4,561.2 659.9,561.07 660.4,561.09 660.9,560.81 661.4,560.49 661.9,561.04 662.4,561.24 662.9,561.22 663.4,561.27 663.9,561.48 664.4,561.16 664.9,561.15 665.4,561.17 665.9,561.59 666.4,561.26 666.9,561.09 667.4,561.14 667.9,561.26 668.4,560.63 668.9,561.6 669.4,562.13 669.9,562.02 670.4,561.56 670.9,562.18 671.4,561.7 671.9,561.51 672.4,561.34 672.9,561.49 673.4,561.04 673.9,561.14 674.4,561.38 674.9,561.61 675.4,562.08 675.9,562.38 676.4,562.4 676.9,562.66 677.4,562.54 677.9,562.12 678.4,562.18 678.9,562 679.4,561.3 679.9,561.01 680.4,561.51 680.9,561.27 681.4,561.3 681.9,561.35 682.4,561.86 682.9,561.61 683.4,561.66 683.9,561.38 684.4,561.3 684.9,561.29 685.4,561.16 685.9,561.47 686.4,561.91 686.9,562.25 687.4,562.08 687.9,562.3 688.4,562.33 688.9,562.25 689.4,561.88 689.9,561.78 690.4,562.11 690.9,561.62 691.4,561.59 691.9,561.87 692.4,562.17 692.9,561.66 693.4,562.2 693.9,561.98 694.4,562.03 694.9,561.55 695.4,561.78 695.9,561.36 696.4,561.27 696.9,561.31 697.4,561.35 697.9,561.46 698.4,561.05 698.9,561.72 699.4,561.63 699.9,562.22 700.4,562.24 700.9,562.8 701.4,562.42 701.9,562.35 702.4,562.13 702.9,561.95 703.4,561.63 703.9,561.64 704.4,561.86 704.9,561.74 705.4,561.84 705.9,562.27 706.4,561.81 706.9,561.74 707.4,562.04 707.9,562.09 708.4,561.92 708.9,562.2 709.4,562.03 709.9,562.11 710.4,561.91 710.9,562.1 711.4,562.32 711.9,562.58 712.4,561.92 712.9,561.6 713.4,561.4 713.9,561.43 714.4,560.74 714.9,560.93 715.4,561.38 715.9,561.42 716.4,561.3 716.9,561.45 717.4,561.31 717.9,561.01 718.4,561.21 718.9,561.34 719.4,561.84 719.9,561.67 720.4,561.64 720.9,561.52 721.4,561.46 721.9,561.58 722.4,561.79 722.9,561.93 723.4,562.05 723.9,561.88 724.4,561.56 724.9,561.94 725.4,562.41 725.9,562.16 726.4,562.05 726.9,562.03 727.4,561.15 727.9,560.99 728.4,561.43 728.9,561.8 729.4,561.73 729.9,562.13 730.4,561.86 730.9,561.58 731.4,561.71 731.9,562.17 732.4,562.81 732.9,563.01 733.4,563.21 733.9,562.47 734.4,561.93 734.9,561.58 735.4,561.26 735.9,560.93 736.4,561.51 736.9,561.93 737.4,561.94 737.9,562.2 738.4,562.23 738.9,562.32 739.4,562.42 739.9,562.27 740.4,562.31 740.9,562.39 741.4,562.23 741.9,561.77 742.4,561.73 742.9,561.54 743.4,561.6 743.9,561.73 744.4,562.11 744.9,562.24 745.4,562.08 745.9,562.04 746.4,561.49 746.9,561.51 747.4,561.9 747.9,561.94 748.4,561.76 748.9,561.74 749.4,561.5 749.9,561.03 750.4,561.28 750.9,561.5 751.4,561.93 751.9,562.23 752.4,562.52 752.9,562.4 753.4,562.46 753.9,562.22 754.4,561.58 754.9,561.1 755.4,561.55 755.9,561.17 756.4,561.24 756.9,561.57 757.4,561.83 757.9,561.62 758.4,562.11 758.9,562.28 759.4,562.22 759.9,562.06 760.4,561.7 760.9,561.24 761.4,561.17 761.9,561.3 762.4,561.66 762.9,561.98 763.4,562.15 763.9,562.42 764.4,562.18 764.9,562.33 765.4,562.37 765.9,562.81 766.4,562.68 766.9,562.63 767.4,562.69 767.9,562.48 768.4,561.87 768.9,561.38 769.4,561.18 769.9,560.84 770.4,561 770.9,561.1 771.4,561.94 771.9,562.39 772.4,562.49 772.9,562.14 773.4,562.05 773.9,561.42 774.4,561.55 774.9,561.41 775.4,561.63 775.9,561.89 776.4,562.14 776.9,562.09 777.4,561.47 777.9,561.62 778.4,561.7 778.9,561.91 779.4,561.86 779.9,562.29 780.4,561.88 780.9,561.96 781.4,561.57 781.9,561.75 782.4,561.97 782.9,562.04 783.4,561.87 783.9,562.32 784.4,562.19 784.9,561.78 785.4,562 785.9,561.89 786.4,561.66 786.9,561.58 787.4,562.05 787.9,561.91 788.4,561.99 788.9,562.16 789.4,562.3 789.9,562.23 790.4,562.43 790.9,562.65 791.4,562.65 791.9,562.66 792.4,562.22 792.9,561.87 793.4,561.49 793.9,561.26 794.4,560.9 794.9,560.92 795.4,561.17 795.9,561.12 796.4,560.89 796.9,560.96 797.4,561.09 797.9,561.15 798.4,561.53 798.9,561.67 799.4,561.62 799.9,561.96 800.4,561.76 800.9,561.53 801.4,561.51 801.9,561.59 802.4,561.86 802.9,562.16 803.4,562.49 803.9,562.87 804.4,563.05 804.9,562.21 805.4,562.21 805.9,562.11 806.4,561.49 806.9,561.27 807.4,561.98 807.9,561.98 808.4,562.02 808.9,562.16 809.4,562.49 809.9,562.19 810.4,562.2 810.9,561.68 811.4,561.83 811.9,561.18 812.4,561 812.9,560.74 813.4,561 813.9,560.93 814.4,561.27 814.9,561.58 815.4,561.65 815.9,561.39 816.4,561.59 816.9,561.99 817.4,561.84 817.9,561.61 818.4,562.18 818.9,562.2 819.4,561.48 819.9,561.51 820.4,561.67 820.9,561.91 821.4,561.78 821.9,561.95 822.4,562.09 822.9,562.45 823.4,561.54 823.9,561.55 824.4,561.74 824.9,561.81 825.4,561.65 825.9,561.89 826.4,561.95 826.9,562.04 827.4,561.49 827.9,561.13 828.4,561.51 828.9,561.65 829.4,562.14 829.9,562.52 830.4,562.91 830.9,562.4 831.4,562.5 831.9,561.74 832.4,561.54 832.9,561.5 833.4,561.63 833.9,561.95 834.4,562.06 834.9,561.9 835.4,561.73 835.9,562.1 836.4,561.26 836.9,561.63 837.4,562.21 837.9,561.88 838.4,561.83 838.9,562.06 839.4,561.88 839.9,561.71 840.4,562.23 840.9,562.01 841.4,562.1 841.9,561.92 842.4,562.11 842.9,562.13 843.4,562.45 843.9,562.34 844.4,562.5 844.9,562.13 845.4,561.77 845.9,561.63 846.4,561.21 846.9,561.52 847.4,561.74 847.9,561.54 848.4,561.58 848.9,562.32 849.4,562.27 849.9,562.08 850.4,562.55 850.9,562.01 851.4,561.8 851.9,561.72 852.4,561.9 852.9,561.88 853.4,562.32 853.9,562.34 854.4,561.91 854.9,561.4 855.4,561.18 855.9,561.61 856.4,561.75 856.9,562 857.4,562 857.9,562.28 858.4,561.64 858.9,562.12 859.4,562.22 859.9,562.41 860.4,562.07 860.9,562.21 861.4,561.3 861.9,561.06 862.4,561.09 862.9,561.38 863.4,561.69 863.9,561.68 864.4,561.85 864.9,562.04 865.4,561.53 865.9,561.24 866.4,561.4 866.9,561.07 867.4,560.98 867.9,561.53 868.4,561.4 868.9,561.45 869.4,561.95 869.9,562.23 870.4,562.48 870.9,562.92 871.4,562.95 871.9,562.77 872.4,562.52 872.9,562.54 873.4,562.85 873.9,562.67 874.4,562.99 874.9,563.27 875.4,562.97 875.9,562.55 876.4,562.73 876.9,562.7 877.4,562.5 877.9,562.27 878.4,562.17 878.9,561.84 879.4,561.67 879.9,561.63 880.4,561.95 880.9,562.19 881.4,562.56 881.9,562.32 882.4,562.19 882.9,561.5 883.4,561.14 883.9,560.7 884.4,560.84 884.9,560.81 885.4,561.6 885.9,561.72 886.4,561.75 886.9,561.54 887.4,561.6 887.9,561.61 888.4,561.64 888.9,561.93 889.4,561.88 889.9,561.95 890.4,561.47 890.9,561.65 891.4,561.8 891.9,561.82 892.4,561.8 892.9,562.24 893.4,562.58 893.9,562.16 894.4,562.16 894.9,562.56 895.4,562.45 895.9,561.99 896.4,562.49 896.9,562.5 897.4,562.3 897.9,562.24 898.4,561.97 898.9,562.16 899.4,562.18 899.9,561.61 900.4,561.6 900.9,561.28 901.4,560.73 901.9,560.28 902.4,560.76 902.9,560.73 903.4,560.87 903.9,561.35 904.4,561.94 904.9,561.9 905.4,562.23 905.9,562.65 906.4,562.51 906.9,562.48 907.4,562.34 907.9,561.89 908.4,561.85 908.9,561.52 909.4,561.65 909.9,561.66 910.4,561.41 910.9,561 911.4,561.17 911.9,561.1 912.4,560.83 912.9,561.32 913.4,561.36 913.9,561.3 914.4,560.94 914.9,560.95 915.4,560.79 915.9,561.22 916.4,561.56 916.9,561.74 917.4,561.91 917.9,561.59 918.4,561.16 918.9,560.92 919.4,560.78 919.9,561.34 920.4,561.47 920.9,561.56 921.4,561.86 921.9,562.39 922.4,561.85 922.9,562.23 923.4,562.37 923.9,562.04 924.4,561.67 924.9,561.65 925.4,561.68 925.9,561.51 926.4,561.58 926.9,561.8 927.4,562.05 927.9,561.87 928.4,561.93 928.9,561.75 929.4,562.02 929.9,561.99 930.4,561.75 930.9,562 931.4,561.87 931.9,561.78 932.4,561.57 932.9,562.07 933.4,561.66 933.9,561.69 934.4,560.99 934.9,561.19 935.4,560.73 935.9,561.22 936.4,561.51 936.9,561.95 937.4,561.91 937.9,561.96 938.4,561.68 938.9,561.45 939.4,561.49 939.9,561.8 940.4,562.13 940.9,562.24 941.4,562.44 941.9,562.48 942.4,562.15 942.9,561.89 943.4,561.52 943.9,561.65 944.4,561.4 944.9,561.68 945.4,561.87 945.9,562.41 946.4,562 946.9,561.85 947.4,561.55 947.9,561.29 948.4,561.04 948.9,561 949.4,561.21 949.9,561.25 950.4,561.5 950.9,561.55 951.4,562.46 951.9,562.53 952.4,562.77 952.9,562.8 953.4,562.83 953.9,562.12 954.4,562.39 954.9,561.98 955.4,561.93 955.9,561.92 956.4,562.05 956.9,561.71 957.4,561.88 957.9,562.2 958.4,562.23 958.9,562.12 959.4,562.04 959.9,562.18 960.4,561.73 960.9,561.99 961.4,561.78 961.9,561.95 962.4,561.8 962.9,561.89 963.4,561.49 963.9,561.42 964.4,561.39 964.9,561.62 965.4,561.68 965.9,562.13 966.4,562.22 966.9,562.07 967.4,562.45 967.9,562.67 968.4,562.49 968.9,562.8 969.4,562.62 969.9,561.85 970.4,561.28 970.9,561.16 971.4,561.39 971.9,561.67 972.4,561.63 972.9,561.88 973.4,562.19 973.9,562.05 974.4,562.25" fill="none" stroke="#000" stroke-width="2.9" stroke-linejoin="round" stroke-linecap="round" stroke-linecap="butt"/>
<polyline points="603.9,751.53 604.4,751.78 604.9,751.81 605.4,751.83 605.9,751.68 606.4,751.68 606.9,751.85 607.4,751.85 607.9,751.94 608.4,752.42 608.9,752.68 609.4,752.46 609.9,752.92 610.4,752.52 610.9,752.14 611.4,751.92 611.9,752 612.4,751.47 612.9,751.46 613.4,751.62 613.9,751.92 614.4,752.05 614.9,752.26 615.4,752.38 615.9,752 616.4,752.1 616.9,751.64 617.4,751.37 617.9,751 618.4,751.39 618.9,751.07 619.4,751.42 619.9,752.17 620.4,752.48 620.9,752.66 621.4,752.54 621.9,752.44 622.4,751.87 622.9,751.86 623.4,751.75 623.9,752.06 624.4,751.91 624.9,751.89 625.4,751.73 625.9,752.06 626.4,751.92 626.9,752.29 627.4,752.17 627.9,752.55 628.4,752.01 628.9,752.34 629.4,752.16 629.9,752.44 630.4,752.37 630.9,752.53 631.4,752.14 631.9,752.34 632.4,752.16 632.9,752.38 633.4,752.27 633.9,752.56 634.4,752.5 634.9,752.46 635.4,752.15 635.9,752.27 636.4,752.03 636.9,751.7 637.4,751.55 637.9,751.63 638.4,751.92 638.9,752.26 639.4,752.71 639.9,752.96 640.4,752.98 640.9,752.7 641.4,752.65 641.9,752.81 642.4,752.57 642.9,752.27 643.4,752.65 643.9,752.54 644.4,752.36 644.9,752.62 645.4,752.53 645.9,752.63 646.4,752.96 646.9,752.79 647.4,752.76 647.9,753.04 648.4,752.32 648.9,751.91 649.4,751.95 649.9,752.03 650.4,752.16 650.9,752.36 651.4,752.68 651.9,752.43 652.4,752.36 652.9,752.45 653.4,752.38 653.9,751.7 654.4,751.67 654.9,751.55 655.4,751.42 655.9,751.82 656.4,751.99 656.9,752.18 657.4,752.27 657.9,752.12 658.4,751.28 658.9,751.67 659.4,752.17 659.9,752.24 660.4,752.08 660.9,752.5 661.4,752.38 661.9,752.41 662.4,752.33 662.9,752.55 663.4,752.98 663.9,752.91 664.4,752.78 664.9,752.5 665.4,752.37 665.9,752.19 666.4,752.51 666.9,752.25 667.4,752.47 667.9,752.18 668.4,751.87 668.9,751.43 669.4,751.17 669.9,751.23 670.4,751.55 670.9,751.88 671.4,752.03 671.9,752.07 672.4,751.97 672.9,752.13 673.4,752.15 673.9,752.03 674.4,752.05 674.9,751.73 675.4,751.98 675.9,752.11 676.4,752.18 676.9,752.12 677.4,752.15 677.9,751.84 678.4,751.57 678.9,752.08 679.4,752.24 679.9,752.34 680.4,751.77 680.9,752.03 681.4,751.6 681.9,751.2 682.4,751.41 682.9,751.59 683.4,752.03 683.9,752.24 684.4,752.71 684.9,752.63 685.4,752.52 685.9,751.74 686.4,751.16 686.9,751.16 687.4,750.74 687.9,751.01 688.4,751.3 688.9,751.99 689.4,751.6 689.9,751.73 690.4,752.12 690.9,752.04 691.4,751.47 691.9,751.58 692.4,751.76 692.9,751.31 693.4,750.98 693.9,751.46 694.4,751.76 694.9,752.36 695.4,752.6 695.9,752.71 696.4,752.23 696.9,752.05 697.4,751.33 697.9,750.96 698.4,751.14 698.9,751.66 699.4,751.87 699.9,752.44 700.4,752.88 700.9,752.58 701.4,752.28 701.9,752.02 702.4,751.49 702.9,751.07 703.4,750.91 703.9,750.89 704.4,751 704.9,751.14 705.4,751.81 705.9,752.17 706.4,752.3 706.9,752.53 707.4,752.45 707.9,751.72 708.4,751.84 708.9,751.57 709.4,751.59 709.9,751.84 710.4,752.48 710.9,752.48 711.4,752.18 711.9,752.06 712.4,751.84 712.9,751.46 713.4,751.2 713.9,751.81 714.4,751.85 714.9,752.21 715.4,752.02 715.9,751.98 716.4,751.3 716.9,751.09 717.4,751 717.9,751.19 718.4,751.37 718.9,751.94 719.4,752.18 719.9,751.87 720.4,751.85 720.9,751.64 721.4,751.97 721.9,751.98 722.4,752.13 722.9,752.36 723.4,752.55 723.9,752.21 724.4,751.93 724.9,751.89 725.4,751.57 725.9,751.4 726.4,751.72 726.9,751.88 727.4,751.96 727.9,752.19 728.4,752.34 728.9,752.06 729.4,751.8 729.9,751.83 730.4,751.93 730.9,751.75 731.4,751.5 731.9,751.43 732.4,751.15 732.9,751.29 733.4,750.94 733.9,751.06 734.4,751.14 734.9,751.23 735.4,751.06 735.9,751.81 736.4,751.89 736.9,751.99 737.4,751.99 737.9,751.94 738.4,751.89 738.9,751.79 739.4,751.57 739.9,751.43 740.4,751.21 740.9,750.71 741.4,751.03 741.9,751.36 742.4,751.58 742.9,752.13 743.4,752.28 743.9,752.21 744.4,752.3 744.9,752.02 745.4,751.36 745.9,751.3 746.4,751.33 746.9,751.43 747.4,751.5 747.9,752.06 748.4,752.17 748.9,751.89 749.4,751.49 749.9,751.68 750.4,751.06 750.9,750.92 751.4,750.73 751.9,750.95 752.4,751.46 752.9,752.43 753.4,752.56 753.9,752.43 754.4,752.2 754.9,751.49 755.4,751.25 755.9,751.34 756.4,751.41 756.9,751.51 757.4,751.61 757.9,750.58 758.4,750.07 758.9,749.91 759.4,749.47 759.9,749.21 760.4,749.42 760.9,749.62 761.4,749.74 761.9,749.89 762.4,750.67 762.9,751.39 763.4,752.08 763.9,752.49 764.4,753.22 764.9,753.55 765.4,753.54 765.9,753.87 766.4,754.19 766.9,754.24 767.4,753.86 767.9,753.95 768.4,753.7 768.9,753.43 769.4,753.43 769.9,753.06 770.4,752.63 770.9,752.38 771.4,752.13 771.9,751.63 772.4,751.94 772.9,752.37 773.4,751.81 773.9,752.13 774.4,752.6 774.9,752.66 775.4,752.34 775.9,752.59 776.4,752.41 776.9,751.75 777.4,751.43 777.9,751.44 778.4,751.53 778.9,751.85 779.4,752.04 779.9,751.78 780.4,752.05 780.9,751.84 781.4,751.49 781.9,751.51 782.4,751.74 782.9,751.3 783.4,751.47 783.9,752.04 784.4,751.93 784.9,751.98 785.4,752.43 785.9,752.65 786.4,752.34 786.9,752.65 787.4,752.25 787.9,751.82 788.4,751.69 788.9,751.63 789.4,751.72 789.9,752.24 790.4,752.38 790.9,752.36 791.4,752.2 791.9,751.97 792.4,752.02 792.9,751.99 793.4,751.81 793.9,751.67 794.4,751.85 794.9,751.98 795.4,752.26 795.9,752.62 796.4,752.99 796.9,752.75 797.4,752.61 797.9,752.17 798.4,751.94 798.9,751.6 799.4,751.75 799.9,751.48 800.4,751.69 800.9,751.81 801.4,752.26 801.9,751.93 802.4,751.85 802.9,752.05 803.4,751.72 803.9,751.53 804.4,751.57 804.9,751.75 805.4,751.18 805.9,751.57 806.4,751.36 806.9,751.28 807.4,751.75 807.9,752.29 808.4,752.89 808.9,753.07 809.4,753.17 809.9,752.72 810.4,752.87 810.9,752.05 811.4,751.98 811.9,752.08 812.4,751.74 812.9,751.28 813.4,751.03 813.9,750.52 814.4,750.46 814.9,750.7 815.4,750.64 815.9,750.56 816.4,750.49 816.9,750.58 817.4,750.66 817.9,750.58 818.4,751.11 818.9,751.78 819.4,752.26 819.9,752.8 820.4,753.61 820.9,753.89 821.4,754.33 821.9,754.03 822.4,753.76 822.9,753.34 823.4,752.98 823.9,752.72 824.4,752.84 824.9,753.05 825.4,752.41 825.9,752.4 826.4,752.18 826.9,752.46 827.4,752.25 827.9,752.4 828.4,752.38 828.9,752.29 829.4,752 829.9,751.57 830.4,751.9 830.9,751.78 831.4,751.87 831.9,751.52 832.4,751.35 832.9,751.47 833.4,751.71 833.9,751.72 834.4,751.62 834.9,752.06 835.4,752.08 835.9,751.83 836.4,751.84 836.9,752.36 837.4,752.07 837.9,751.83 838.4,751.45 838.9,751.3 839.4,750.84 839.9,750.87 840.4,750.84 840.9,751.64 841.4,751.74 841.9,751.88 842.4,752.56 842.9,752.69 843.4,751.93 843.9,752.06 844.4,751.88 844.9,751.76 845.4,751.5 845.9,751.75 846.4,751.31 846.9,751.54 847.4,750.96 847.9,751.22 848.4,751.26 848.9,751.47 849.4,751.65 849.9,752.07 850.4,752.1 850.9,751.99 851.4,751.89 851.9,751.74 852.4,752.05 852.9,751.94 853.4,751.96 853.9,752.04 854.4,751.75 854.9,751.02 855.4,751.07 855.9,751.55 856.4,751.7 856.9,751.82 857.4,751.68 857.9,751.77 858.4,751.46 858.9,751.19 859.4,751.06 859.9,751.4 860.4,751.57 860.9,751.71 861.4,752.02 861.9,752.18 862.4,752.26 862.9,752.04 863.4,752.37 863.9,752.07 864.4,752.06 864.9,752.26 865.4,752.19 865.9,752.01 866.4,752.23 866.9,752.3 867.4,751.9 867.9,751.6 868.4,751 868.9,751.39 869.4,751.39 869.9,751.48 870.4,751.86 870.9,752.08 871.4,751.74 871.9,751.49 872.4,751.33 872.9,751.41 873.4,751.35 873.9,751.05 874.4,751.31 874.9,751.53 875.4,751.74 875.9,751.93 876.4,752.21 876.9,752.36 877.4,752.91 877.9,752.81 878.4,752.97 878.9,753.13 879.4,753.17 879.9,752.91 880.4,753.1 880.9,752.59 881.4,752.78 881.9,752.63 882.4,752.29 882.9,752.45 883.4,752.73 883.9,752.83 884.4,753.02 884.9,752.86 885.4,752.44 885.9,752.63 886.4,752.18 886.9,751.46 887.4,751.61 887.9,751.46 888.4,751.06 888.9,751.48 889.4,751.93 889.9,751.91 890.4,751.89 890.9,751.96 891.4,751.39 891.9,751.47 892.4,751.62 892.9,751.57 893.4,751.72 893.9,751.59 894.4,751.68 894.9,751.45 895.4,751.6 895.9,751.42 896.4,751.61 896.9,751.54 897.4,751.44 897.9,751.93 898.4,752.12 898.9,752.21 899.4,752.01 899.9,752.61 900.4,752.38 900.9,752.45 901.4,752.17 901.9,752.22 902.4,752.01 902.9,751.6 903.4,751.27 903.9,751.31 904.4,751.25 904.9,751.12 905.4,751.09 905.9,751.35 906.4,752.21 906.9,752.76 907.4,752.53 907.9,752.75 908.4,752.76 908.9,752.13 909.4,751.97 909.9,752.12 910.4,751.98 910.9,751.88 911.4,751.89 911.9,751.94 912.4,752.18 912.9,751.96 913.4,751.94 913.9,751.79 914.4,751.69 914.9,751.57 915.4,752.05 915.9,752.14 916.4,751.9 916.9,751.82 917.4,751.82 917.9,751.74 918.4,751.47 918.9,751.9 919.4,751.65 919.9,751.45 920.4,751.42 920.9,751.78 921.4,751.57 921.9,751.35 922.4,750.96 922.9,750.76 923.4,750.92 923.9,751.11 924.4,750.99 924.9,751.34 925.4,751.55 925.9,751.67 926.4,751.93 926.9,752.5 927.4,752.73 927.9,752.41 928.4,751.95 928.9,751.63 929.4,751.38 929.9,751.35 930.4,751.49 930.9,751.66 931.4,752.05 931.9,752.37 932.4,752.45 932.9,752.48 933.4,752.08 933.9,751.75 934.4,751.7 934.9,751.4 935.4,751.72 935.9,751.98 936.4,752.08 936.9,751.89 937.4,751.84 937.9,752.01 938.4,751.84 938.9,751.95 939.4,751.9 939.9,752.24 940.4,751.62 940.9,751.78 941.4,751.78 941.9,752.32 942.4,752.07 942.9,752.25 943.4,752.54 943.9,752.21 944.4,751.94 944.9,751.96 945.4,752.08 945.9,751.97 946.4,752.37 946.9,752.3 947.4,752.21 947.9,752.22 948.4,751.89 948.9,751.79 949.4,752.04 949.9,752.42 950.4,752.16 950.9,752.66 951.4,752.53 951.9,751.94 952.4,751.73 952.9,752.16 953.4,751.83 953.9,751.82 954.4,752.02 954.9,751.73 955.4,751.31 955.9,751.46 956.4,751.47 956.9,751.51 957.4,751.41 957.9,751.79 958.4,751.87 958.9,752.04 959.4,752.36 959.9,752.73 960.4,752.33 960.9,752.24 961.4,752.38 961.9,751.74 962.4,751.79 962.9,751.76 963.4,751.81 963.9,751.77 964.4,752.07 964.9,751.85 965.4,752.02 965.9,751.83 966.4,751.18 966.9,751.44 967.4,751.59 967.9,751.73 968.4,751.51 968.9,752.08 969.4,751.58 969.9,751.92 970.4,751.38 970.9,751.96 971.4,751.64 971.9,751.62 972.4,751.34 972.9,751.8 973.4,751.29 973.9,751.27 974.4,751.66" fill="none" stroke="#000" stroke-width="2.9" stroke-linejoin="round" stroke-linecap="round" stroke-linecap="butt"/>
<polyline points="603.9,941.67 604.4,941.99 604.9,941.88 605.4,942.33 605.9,942.33 606.4,941.85 606.9,941.54 607.4,941.48 607.9,941.23 608.4,941.52 608.9,942.04 609.4,942.74 609.9,943.23 610.4,943.23 610.9,943.34 611.4,943.24 611.9,942.72 612.4,942.54 612.9,942.42 613.4,942.09 613.9,942.38 614.4,942.68 614.9,942.4 615.4,942.37 615.9,942.92 616.4,942.44 616.9,942.43 617.4,942.67 617.9,942.8 618.4,942.42 618.9,942.37 619.4,942.1 619.9,941.93 620.4,941.74 620.9,941.79 621.4,942.23 621.9,942.14 622.4,942.29 622.9,942.16 623.4,941.83 623.9,941.44 624.4,941.66 624.9,941.44 625.4,941.08 625.9,941.54 626.4,941.53 626.9,941.37 627.4,941.61 627.9,942.05 628.4,941.43 628.9,941.6 629.4,941.83 629.9,941.5 630.4,941.81 630.9,942.21 631.4,941.85 631.9,942.14 632.4,942.38 632.9,941.95 633.4,941.97 633.9,942.24 634.4,942.07 634.9,941.71 635.4,942.19 635.9,942.3 636.4,942.42 636.9,942.34 637.4,942.92 637.9,942.85 638.4,942.67 638.9,942.34 639.4,942.44 639.9,942.37 640.4,942.28 640.9,942.28 641.4,942.62 641.9,941.83 642.4,941.68 642.9,941.07 643.4,941.08 643.9,941.16 644.4,942.12 644.9,941.95 645.4,942.59 645.9,942.52 646.4,941.8 646.9,941.54 647.4,941.64 647.9,941.55 648.4,941.36 648.9,941.84 649.4,941.69 649.9,941.98 650.4,942.02 650.9,942.99 651.4,942.91 651.9,942.83 652.4,942.54 652.9,942.3 653.4,941.86 653.9,942.09 654.4,941.87 654.9,941.9 655.4,942.33 655.9,941.68 656.4,941.57 656.9,941.79 657.4,942.28 657.9,942.12 658.4,942.33 658.9,942.17 659.4,942.64 659.9,942.02 660.4,942.43 660.9,942.17 661.4,942.25 661.9,941.78 662.4,941.72 662.9,941.17 663.4,941.66 663.9,941.55 664.4,941.29 664.9,941.73 665.4,942.1 665.9,941.79 666.4,942 666.9,941.74 667.4,941.67 667.9,941.05 668.4,941.07 668.9,941.47 669.4,941.75 669.9,941.52 670.4,941.57 670.9,941.28 671.4,940.54 671.9,940.87 672.4,940.57 672.9,940.67 673.4,941.22 673.9,941.43 674.4,941.08 674.9,941.68 675.4,941.82 675.9,941.96 676.4,941.75 676.9,942.4 677.4,941.76 677.9,941.34 678.4,940.92 678.9,941.05 679.4,940.72 679.9,940.88 680.4,941.38 680.9,941.75 681.4,941.66 681.9,941.28 682.4,941.3 682.9,941.31 683.4,941.17 683.9,941.21 684.4,941.27 684.9,941.33 685.4,941.33 685.9,940.96 686.4,941.29 686.9,941.52 687.4,941.55 687.9,941.16 688.4,941.58 688.9,941.26 689.4,940.84 689.9,940.92 690.4,940.92 690.9,940.81 691.4,940.79 691.9,940.92 692.4,940.73 692.9,940.65 693.4,940.17 693.9,940.05 694.4,940.25 694.9,940.06 695.4,939.9 695.9,939.58 696.4,939.15 696.9,938.22 697.4,937.28 697.9,935.83 698.4,934.4 698.9,931.4 699.4,928.32 699.9,924.84 700.4,921.41 700.9,917.2 701.4,914.41 701.9,912.5 702.4,912.1 702.9,913.37 703.4,916.5 703.9,921.81 704.4,928.71 704.9,936.26 705.4,943.92 705.9,951.71 706.4,958.16 706.9,963.56 707.4,967.19 707.9,969.19 708.4,969.3 708.9,968.25 709.4,965.4 709.9,962.18 710.4,958.93 710.9,955.79 711.4,952.92 711.9,950.57 712.4,948.94 712.9,947.31 713.4,946.19 713.9,945.26 714.4,944.44 714.9,944.02 715.4,943.63 715.9,943.03 716.4,943.12 716.9,943.34 717.4,942.88 717.9,943.14 718.4,943.64 718.9,943.46 719.4,943.01 719.9,943.12 720.4,942.63 720.9,942.23 721.4,941.91 721.9,941.93 722.4,941.95 722.9,941.96 723.4,942.18 723.9,942.29 724.4,942.3 724.9,942.19 725.4,942.47 725.9,942.54 726.4,942.41 726.9,942.88 727.4,942.93 727.9,943.01 728.4,942.43 728.9,942.22 729.4,942.07 729.9,941.86 730.4,941.65 730.9,942.17 731.4,942.05 731.9,941.84 732.4,942.28 732.9,942.31 733.4,942.03 733.9,942.43 734.4,942.29 734.9,942 735.4,942.07 735.9,941.96 736.4,941.91 736.9,941.93 737.4,941.88 737.9,941.73 738.4,941.5 738.9,941.57 739.4,941.64 739.9,941.19 740.4,940.89 740.9,940.74 741.4,940.36 741.9,940.18 742.4,940.1 742.9,939.93 743.4,939.99 743.9,939.83 744.4,939.51 744.9,939.45 745.4,939.67 745.9,939.73 746.4,939.62 746.9,939.91 747.4,939.93 747.9,939.9 748.4,939.56 748.9,939.91 749.4,939.41 749.9,939.06 750.4,938.56 750.9,937.95 751.4,936.55 751.9,935.43 752.4,933.74 752.9,931.28 753.4,928.36 753.9,924.56 754.4,919.62 754.9,914.28 755.4,908.23 755.9,902.6 756.4,897.67 756.9,893.62 757.4,891.7 757.9,893.47 758.4,897.76 758.9,905.43 759.4,916.52 759.9,929.76 760.4,943.86 760.9,958.52 761.4,971.82 761.9,982.73 762.4,990.15 762.9,993.72 763.4,994.69 763.9,992.64 764.4,988.47 764.9,982.6 765.4,976.1 765.9,970.15 766.4,964.23 766.9,959.22 767.4,955.34 767.9,952.23 768.4,949.85 768.9,947.82 769.4,946.19 769.9,945.57 770.4,945.15 770.9,943.96 771.4,943.99 771.9,944.16 772.4,943.54 772.9,943.3 773.4,943.73 773.9,944.02 774.4,943.27 774.9,943.36 775.4,943.41 775.9,942.96 776.4,942.26 776.9,942.58 777.4,942.77 777.9,942.46 778.4,942.78 778.9,943.08 779.4,943.31 779.9,943.47 780.4,943.53 780.9,943.27 781.4,943.24 781.9,943.28 782.4,943.09 782.9,943.05 783.4,942.91 783.9,942.35 784.4,941.93 784.9,941.49 785.4,941.43 785.9,941.41 786.4,941.82 786.9,942.06 787.4,942.2 787.9,942.01 788.4,942.03 788.9,941.9 789.4,941.85 789.9,941.86 790.4,942.24 790.9,942.06 791.4,942.06 791.9,941.99 792.4,941.82 792.9,941.43 793.4,941.79 793.9,941.38 794.4,941.31 794.9,941.27 795.4,941.31 795.9,940.93 796.4,940.98 796.9,940.77 797.4,941.15 797.9,941.47 798.4,941.43 798.9,941.55 799.4,941.68 799.9,941.13 800.4,941.14 800.9,941.09 801.4,941.04 801.9,940.56 802.4,940.32 802.9,939.62 803.4,939.38 803.9,939.37 804.4,939.39 804.9,939.69 805.4,939.64 805.9,939.33 806.4,938.79 806.9,938.25 807.4,936.92 807.9,935.88 808.4,934.71 808.9,932.36 809.4,929.15 809.9,925.47 810.4,920.47 810.9,914.69 811.4,908.57 811.9,902.81 812.4,897.57 812.9,893.95 813.4,891.61 813.9,891.92 814.4,895.98 814.9,903 815.4,912.63 815.9,925.38 816.4,939.43 816.9,953.05 817.4,966.19 817.9,977.25 818.4,985.4 818.9,990.7 819.4,992.56 819.9,991.22 820.4,987.96 820.9,983.2 821.4,977.53 821.9,971.28 822.4,965.78 822.9,960.21 823.4,955.4 823.9,951.85 824.4,949.6 824.9,947.86 825.4,946.58 825.9,946.21 826.4,945.39 826.9,944.76 827.4,944.28 827.9,944.76 828.4,944.18 828.9,943.81 829.4,943.68 829.9,943.46 830.4,943.33 830.9,943.52 831.4,943.75 831.9,943.69 832.4,943.53 832.9,943.41 833.4,942.9 833.9,942.74 834.4,942.59 834.9,942.87 835.4,942.62 835.9,942.78 836.4,943.03 836.9,943.58 837.4,943.5 837.9,943.14 838.4,943.19 838.9,943.22 839.4,942.36 839.9,941.83 840.4,941.98 840.9,942.09 841.4,941.63 841.9,942.01 842.4,942.2 842.9,942.32 843.4,941.91 843.9,941.57 844.4,941.03 844.9,941.06 845.4,941.17 845.9,941.5 846.4,941.59 846.9,941.64 847.4,941.51 847.9,941.06 848.4,940.53 848.9,940.71 849.4,940.88 849.9,940.88 850.4,941.12 850.9,941.52 851.4,941.64 851.9,941.89 852.4,941.85 852.9,941.63 853.4,941.47 853.9,941.64 854.4,941.42 854.9,941.57 855.4,941.98 855.9,942.39 856.4,941.62 856.9,941.66 857.4,941.65 857.9,941.14 858.4,940.56 858.9,940.65 859.4,940.41 859.9,940.13 860.4,939.73 860.9,939.77 861.4,939.73 861.9,939.64 862.4,939.05 862.9,938.94 863.4,938.22 863.9,937.17 864.4,935.55 864.9,934.07 865.4,931.79 865.9,928.73 866.4,925.77 866.9,922.3 867.4,918.75 867.9,915.26 868.4,913.5 868.9,913.07 869.4,914.37 869.9,917.57 870.4,922.81 870.9,929.28 871.4,936.47 871.9,944.14 872.4,951.9 872.9,958.47 873.4,963.39 873.9,967.05 874.4,969.19 874.9,968.95 875.4,967.82 875.9,965.87 876.4,963.05 876.9,959.82 877.4,956.24 877.9,953.7 878.4,951.08 878.9,948.38 879.4,946.83 879.9,945.9 880.4,944.74 880.9,944.58 881.4,944.5 881.9,943.91 882.4,943.55 882.9,943.4 883.4,943.02 883.9,943.15 884.4,943.26 884.9,942.96 885.4,942.93 885.9,942.98 886.4,942.74 886.9,942.54 887.4,942.74 887.9,942.7 888.4,942.09 888.9,942.57 889.4,942.61 889.9,942.66 890.4,942.31 890.9,942.73 891.4,942.5 891.9,942.39 892.4,942.53 892.9,942.83 893.4,942.9 893.9,942.8 894.4,943.16 894.9,942.8 895.4,943.28 895.9,942.94 896.4,942.55 896.9,942.06 897.4,942.43 897.9,942.02 898.4,942.64 898.9,943.13 899.4,943.15 899.9,942.98 900.4,942.7 900.9,942.03 901.4,941.72 901.9,941.74 902.4,942.06 902.9,942.22 903.4,942.47 903.9,942.47 904.4,942.34 904.9,942.17 905.4,942.01 905.9,942.3 906.4,942.59 906.9,942.57 907.4,942.26 907.9,942.22 908.4,941.74 908.9,941.71 909.4,941.93 909.9,942.23 910.4,942.28 910.9,942.27 911.4,942.29 911.9,942.32 912.4,942.64 912.9,942.7 913.4,942.83 913.9,942.64 914.4,942.78 914.9,942.77 915.4,942.63 915.9,942.43 916.4,942.13 916.9,942.38 917.4,942.06 917.9,942.3 918.4,942.51 918.9,942.31 919.4,942.09 919.9,942.01 920.4,941.98 920.9,941.9 921.4,942.27 921.9,942.09 922.4,941.94 922.9,941.82 923.4,941.93 923.9,941.5 924.4,941.69 924.9,941.95 925.4,941.77 925.9,941.74 926.4,942.26 926.9,941.97 927.4,942.19 927.9,942.46 928.4,942.32 928.9,941.97 929.4,942.55 929.9,942.23 930.4,942.26 930.9,942.23 931.4,942.96 931.9,942.46 932.4,942.75 932.9,942.91 933.4,943.17 933.9,942.86 934.4,943.14 934.9,942.77 935.4,942.1 935.9,941.31 936.4,941.41 936.9,940.71 937.4,941.03 937.9,942.14 938.4,942.31 938.9,942.2 939.4,942.75 939.9,942.3 940.4,941.21 940.9,941.59 941.4,941.83 941.9,941.7 942.4,941.85 942.9,942.3 943.4,942.33 943.9,942.02 944.4,942.54 944.9,942.35 945.4,941.94 945.9,942.11 946.4,941.94 946.9,941.33 947.4,941.22 947.9,941.58 948.4,941.3 948.9,941.5 949.4,941.53 949.9,941.51 950.4,941.66 950.9,941.73 951.4,941.23 951.9,941.24 952.4,941.72 952.9,941.6 953.4,941.55 953.9,942.08 954.4,942.02 954.9,941.7 955.4,941.83 955.9,941.86 956.4,941.6 956.9,941.79 957.4,941.99 957.9,942.08 958.4,942.33 958.9,942.49 959.4,942.43 959.9,942.17 960.4,942.02 960.9,941.72 961.4,941.88 961.9,942.06 962.4,942.4 962.9,942.34 963.4,942.49 963.9,942.64 964.4,942.83 964.9,942.56 965.4,941.97 965.9,942.03 966.4,941.38 966.9,941.02 967.4,941.24 967.9,942.18 968.4,942 968.9,942.31 969.4,942.18 969.9,942.14 970.4,941.56 970.9,941.72 971.4,941.81 971.9,942.23 972.4,942.1 972.9,942.43 973.4,942.35 973.9,942.27 974.4,941.78" fill="none" stroke="#000" stroke-width="2.9" stroke-linejoin="round" stroke-linecap="round" stroke-linecap="butt"/>
<path d="M701.8,893.8 L703.68,898.82 L709.03,899.05 L704.84,902.39 L706.27,907.55 L701.8,904.59 L697.33,907.55 L698.76,902.39 L694.57,899.05 L699.92,898.82Z" fill="#e60012"/>
<path d="M757.3,872.3 L759.18,877.32 L764.53,877.55 L760.34,880.89 L761.77,886.05 L757.3,883.09 L752.83,886.05 L754.26,880.89 L750.07,877.55 L755.42,877.32Z" fill="#e60012"/>
<path d="M814.1,872.3 L815.98,877.32 L821.33,877.55 L817.14,880.89 L818.57,886.05 L814.1,883.09 L809.63,886.05 L811.06,880.89 L806.87,877.55 L812.22,877.32Z" fill="#e60012"/>
<path d="M869,893.1 L870.88,898.12 L876.23,898.35 L872.04,901.69 L873.47,906.85 L869,903.89 L864.53,906.85 L865.96,901.69 L861.77,898.35 L867.12,898.12Z" fill="#e60012"/>
<line x1="602.9" y1="656.9" x2="975.8" y2="656.9" stroke="#000" stroke-width="2" />
<line x1="602.9" y1="846.9" x2="975.8" y2="846.9" stroke="#000" stroke-width="2" />
<rect x="602.9" y="466.8" width="372.9" height="570.2" fill="none" stroke="#000" stroke-width="2" />
<text x="1013.45" y="466.8" font-size="46" fill="#231f20" stroke="#231f20" >f</text>
<text transform="translate(1068.8,893.28) rotate(-90) scale(1,1.06)" font-size="36.6" fill="#000" stroke="#000">Intensity (arb.units)</text>
<line x1="1095.7" y1="1037" x2="1095.7" y2="1042" stroke="#000" stroke-width="1.7" />
<line x1="1282.35" y1="1037" x2="1282.35" y2="1042" stroke="#000" stroke-width="1.7" />
<line x1="1469" y1="1037" x2="1469" y2="1042" stroke="#000" stroke-width="1.7" />
<text transform="translate(1063.12,1068.9) scale(1,1.065)" font-size="29.3" fill="#000" stroke="#000" >3450</text>
<text transform="translate(1249.77,1068.9) scale(1,1.065)" font-size="29.3" fill="#000" stroke="#000" >3500</text>
<text transform="translate(1436.42,1068.9) scale(1,1.065)" font-size="29.3" fill="#000" stroke="#000" >3550</text>
<text transform="translate(1161.07,1105.8) scale(1,1.065)" font-size="29.3" fill="#000" stroke="#000" >Magnetic Field (G)</text>
<text transform="translate(1107.47,503.6) scale(1,1.04)" font-size="30.9" fill="#000" stroke="#000" >PP</text>
<text transform="translate(1104.37,698.3) scale(1,1.04)" font-size="30.9" fill="#000" stroke="#000" >PDMS</text>
<text transform="translate(1104.37,889.8) scale(1,1.04)" font-size="30.9" fill="#000" stroke="#000" >PTFE</text>
<text transform="translate(1334.85,504.2) scale(1,1.04)" font-size="30.7" fill="#e60012" stroke="#e60012" >350 RPM</text>
<polyline points="1096.7,561.55 1097.2,561.59 1097.7,562.13 1098.2,561.84 1098.7,562.19 1099.2,562.15 1099.7,561.25 1100.2,561.26 1100.7,561.65 1101.2,561.89 1101.7,562.17 1102.2,562.68 1102.7,562.37 1103.2,562.4 1103.7,562.45 1104.2,562.12 1104.7,561.92 1105.2,562 1105.7,561.91 1106.2,561.5 1106.7,561.86 1107.2,562.27 1107.7,562.23 1108.2,562.16 1108.7,562.52 1109.2,562.58 1109.7,562.38 1110.2,562.61 1110.7,562.64 1111.2,562.61 1111.7,562.64 1112.2,562.76 1112.7,562.53 1113.2,562.35 1113.7,562.26 1114.2,561.97 1114.7,561.8 1115.2,561.56 1115.7,561.88 1116.2,562.12 1116.7,561.89 1117.2,561.87 1117.7,562.19 1118.2,562.24 1118.7,561.78 1119.2,561.9 1119.7,562.29 1120.2,562.54 1120.7,562.5 1121.2,562.47 1121.7,562.83 1122.2,562.57 1122.7,562.08 1123.2,561.96 1123.7,562 1124.2,561.55 1124.7,560.94 1125.2,561.26 1125.7,561.23 1126.2,561.34 1126.7,561.52 1127.2,562.13 1127.7,561.76 1128.2,561.55 1128.7,561.57 1129.2,561.03 1129.7,560.68 1130.2,560.72 1130.7,561.18 1131.2,561.35 1131.7,562.06 1132.2,562.58 1132.7,562.6 1133.2,562.37 1133.7,562.27 1134.2,561.99 1134.7,561.83 1135.2,561.96 1135.7,561.79 1136.2,561.64 1136.7,561.78 1137.2,561.8 1137.7,561.76 1138.2,562.11 1138.7,562.31 1139.2,562.27 1139.7,562.12 1140.2,561.84 1140.7,561.71 1141.2,561.81 1141.7,561.92 1142.2,562.18 1142.7,562.29 1143.2,562.27 1143.7,562.18 1144.2,562.2 1144.7,561.99 1145.2,562.37 1145.7,562.51 1146.2,562.25 1146.7,562.09 1147.2,562.18 1147.7,562.04 1148.2,562.08 1148.7,561.94 1149.2,562.19 1149.7,562.34 1150.2,562.13 1150.7,561.72 1151.2,562.21 1151.7,561.93 1152.2,561.69 1152.7,561.71 1153.2,562.27 1153.7,561.73 1154.2,562.19 1154.7,561.95 1155.2,562.27 1155.7,561.74 1156.2,562.16 1156.7,561.62 1157.2,561.88 1157.7,561.92 1158.2,561.85 1158.7,561.34 1159.2,561.39 1159.7,560.92 1160.2,560.46 1160.7,560.6 1161.2,560.95 1161.7,560.92 1162.2,561.86 1162.7,562.52 1163.2,562.91 1163.7,563.39 1164.2,563.59 1164.7,563.03 1165.2,562.39 1165.7,561.8 1166.2,561.28 1166.7,561.08 1167.2,561.38 1167.7,561.82 1168.2,562.15 1168.7,562.47 1169.2,562.44 1169.7,562.44 1170.2,561.97 1170.7,561.87 1171.2,562.1 1171.7,562.33 1172.2,562.15 1172.7,562.45 1173.2,562.32 1173.7,561.96 1174.2,561.7 1174.7,561.94 1175.2,561.8 1175.7,561.95 1176.2,561.99 1176.7,562.23 1177.2,562.11 1177.7,562.14 1178.2,562.08 1178.7,562.13 1179.2,562.18 1179.7,562.34 1180.2,562.61 1180.7,562.98 1181.2,562.87 1181.7,562.69 1182.2,562.56 1182.7,562.3 1183.2,562.24 1183.7,562.23 1184.2,562.51 1184.7,562.21 1185.2,562.35 1185.7,562.03 1186.2,561.86 1186.7,561.38 1187.2,561.37 1187.7,561.09 1188.2,561.49 1188.7,561.88 1189.2,562.27 1189.7,562.42 1190.2,562.62 1190.7,562.04 1191.2,561.46 1191.7,561.14 1192.2,561.23 1192.7,561.68 1193.2,561.54 1193.7,561.7 1194.2,561.7 1194.7,561.47 1195.2,560.66 1195.7,560.92 1196.2,560.87 1196.7,561.08 1197.2,560.93 1197.7,561.03 1198.2,560.93 1198.7,561.07 1199.2,561.18 1199.7,561.35 1200.2,561.5 1200.7,561.58 1201.2,561.71 1201.7,561.69 1202.2,561.81 1202.7,562.02 1203.2,561.97 1203.7,562.32 1204.2,561.99 1204.7,562.13 1205.2,562.08 1205.7,562.59 1206.2,562.21 1206.7,562.59 1207.2,562.59 1207.7,562.59 1208.2,562.38 1208.7,562.44 1209.2,562.32 1209.7,562.47 1210.2,562.39 1210.7,562.22 1211.2,561.92 1211.7,561.74 1212.2,561.23 1212.7,561.39 1213.2,561.7 1213.7,561.72 1214.2,561.87 1214.7,562.38 1215.2,562.1 1215.7,561.7 1216.2,561.58 1216.7,561.46 1217.2,561.24 1217.7,561.36 1218.2,561.68 1218.7,562.1 1219.2,562.43 1219.7,562.75 1220.2,562.84 1220.7,562.71 1221.2,562.32 1221.7,562.23 1222.2,562 1222.7,562.2 1223.2,561.9 1223.7,562.14 1224.2,561.6 1224.7,561.55 1225.2,561.37 1225.7,561.4 1226.2,561.56 1226.7,561.88 1227.2,561.96 1227.7,561.84 1228.2,561.94 1228.7,561.48 1229.2,561.42 1229.7,561.41 1230.2,561.52 1230.7,561.52 1231.2,561.99 1231.7,562.55 1232.2,562.22 1232.7,562.11 1233.2,562.3 1233.7,561.96 1234.2,561.44 1234.7,562.08 1235.2,562.12 1235.7,562.26 1236.2,562.28 1236.7,562.54 1237.2,562.2 1237.7,562.27 1238.2,561.79 1238.7,561.51 1239.2,561.56 1239.7,561.8 1240.2,561.72 1240.7,562.2 1241.2,562.32 1241.7,562.43 1242.2,562.3 1242.7,561.93 1243.2,561.62 1243.7,562.27 1244.2,562.46 1244.7,562.38 1245.2,562.63 1245.7,562.5 1246.2,562.11 1246.7,561.46 1247.2,561.42 1247.7,561.47 1248.2,562.07 1248.7,561.92 1249.2,562.09 1249.7,561.85 1250.2,561.81 1250.7,561.76 1251.2,561.78 1251.7,561.78 1252.2,562.14 1252.7,561.85 1253.2,561.49 1253.7,562.11 1254.2,561.83 1254.7,562.05 1255.2,562.51 1255.7,562.86 1256.2,562.48 1256.7,562.79 1257.2,562.26 1257.7,562.1 1258.2,561.9 1258.7,561.5 1259.2,561.62 1259.7,562.12 1260.2,562.11 1260.7,561.64 1261.2,562.35 1261.7,561.98 1262.2,561.53 1262.7,561.43 1263.2,562.22 1263.7,561.57 1264.2,561.87 1264.7,561.75 1265.2,561.51 1265.7,561.07 1266.2,561.49 1266.7,561.53 1267.2,562.02 1267.7,562.4 1268.2,562.47 1268.7,562.18 1269.2,562.33 1269.7,562.12 1270.2,562.24 1270.7,562.63 1271.2,563.25 1271.7,563.53 1272.2,563.11 1272.7,562.81 1273.2,562.22 1273.7,561.76 1274.2,561.42 1274.7,561.82 1275.2,561.69 1275.7,562.15 1276.2,562.51 1276.7,562.34 1277.2,562.26 1277.7,562.74 1278.2,562.58 1278.7,561.85 1279.2,561.89 1279.7,562.07 1280.2,562.46 1280.7,562.24 1281.2,562.74 1281.7,563.04 1282.2,562.84 1282.7,562.28 1283.2,562.22 1283.7,562.3 1284.2,561.9 1284.7,561.52 1285.2,561.57 1285.7,561.74 1286.2,561.59 1286.7,561.44 1287.2,561.7 1287.7,562.15 1288.2,561.93 1288.7,561.66 1289.2,562.12 1289.7,562.63 1290.2,562.14 1290.7,562.14 1291.2,562.44 1291.7,562.12 1292.2,562.02 1292.7,561.79 1293.2,562.02 1293.7,562.01 1294.2,562.08 1294.7,562.26 1295.2,562.49 1295.7,562.22 1296.2,562.28 1296.7,562.35 1297.2,561.89 1297.7,562.02 1298.2,561.82 1298.7,561.4 1299.2,561.47 1299.7,561.73 1300.2,561.57 1300.7,562.34 1301.2,562.68 1301.7,563.02 1302.2,562.71 1302.7,562.29 1303.2,561.87 1303.7,561.83 1304.2,561.32 1304.7,561.37 1305.2,561.86 1305.7,561.75 1306.2,561.84 1306.7,561.89 1307.2,561.94 1307.7,562.05 1308.2,562.41 1308.7,562.49 1309.2,562.2 1309.7,562.3 1310.2,561.99 1310.7,561.8 1311.2,561.85 1311.7,562.35 1312.2,562.35 1312.7,562.52 1313.2,562.57 1313.7,562.45 1314.2,562.07 1314.7,561.73 1315.2,561.75 1315.7,561.75 1316.2,561.68 1316.7,562.14 1317.2,562.01 1317.7,561.95 1318.2,561.65 1318.7,561.68 1319.2,561.48 1319.7,561.69 1320.2,561.66 1320.7,561.42 1321.2,560.91 1321.7,560.94 1322.2,561.03 1322.7,561.06 1323.2,561.6 1323.7,562.56 1324.2,562.15 1324.7,562.38 1325.2,562.07 1325.7,561.61 1326.2,560.84 1326.7,561 1327.2,561.06 1327.7,561.62 1328.2,561.87 1328.7,562.05 1329.2,562.26 1329.7,561.94 1330.2,562.11 1330.7,561.97 1331.2,561.87 1331.7,561.95 1332.2,561.75 1332.7,561.26 1333.2,561.52 1333.7,561.75 1334.2,561.4 1334.7,561.72 1335.2,561.84 1335.7,561.55 1336.2,561.51 1336.7,561.74 1337.2,561.78 1337.7,561.48 1338.2,561.85 1338.7,561.93 1339.2,562.31 1339.7,562.1 1340.2,562.41 1340.7,562.46 1341.2,562.04 1341.7,561.5 1342.2,561.84 1342.7,561.7 1343.2,561.62 1343.7,562.09 1344.2,562.08 1344.7,561.97 1345.2,562.38 1345.7,562.03 1346.2,561.98 1346.7,562.25 1347.2,562.44 1347.7,562.66 1348.2,562.82 1348.7,562.88 1349.2,562.71 1349.7,562.51 1350.2,562.23 1350.7,562.13 1351.2,561.99 1351.7,561.97 1352.2,562.01 1352.7,561.58 1353.2,561.87 1353.7,561.57 1354.2,561.06 1354.7,561.26 1355.2,561.75 1355.7,561.91 1356.2,562.13 1356.7,562.85 1357.2,562.58 1357.7,562.22 1358.2,562.37 1358.7,563.01 1359.2,562.73 1359.7,562.73 1360.2,562.9 1360.7,562.41 1361.2,561.94 1361.7,561.85 1362.2,561.57 1362.7,561.58 1363.2,561.73 1363.7,561.44 1364.2,561.7 1364.7,561.94 1365.2,561.69 1365.7,561.86 1366.2,562.19 1366.7,562.15 1367.2,562.26 1367.7,562.67 1368.2,562.43 1368.7,562.66 1369.2,562.71 1369.7,562.99 1370.2,563.01 1370.7,563.12 1371.2,562.96 1371.7,563.01 1372.2,562.68 1372.7,562.55 1373.2,562.77 1373.7,562.68 1374.2,562.49 1374.7,562.45 1375.2,562.63 1375.7,561.99 1376.2,561.73 1376.7,561.73 1377.2,561.81 1377.7,561.19 1378.2,561.65 1378.7,562.03 1379.2,562.28 1379.7,562.18 1380.2,562.11 1380.7,561.9 1381.2,561.35 1381.7,561.37 1382.2,561.15 1382.7,561.25 1383.2,561.79 1383.7,562.43 1384.2,561.92 1384.7,562.18 1385.2,562.35 1385.7,562.21 1386.2,561.59 1386.7,561.81 1387.2,561.9 1387.7,562.01 1388.2,561.31 1388.7,561.56 1389.2,561.66 1389.7,561.65 1390.2,561.71 1390.7,561.93 1391.2,561.67 1391.7,561.7 1392.2,561.65 1392.7,561.34 1393.2,561.36 1393.7,561.2 1394.2,561.11 1394.7,561.37 1395.2,561.56 1395.7,561.53 1396.2,562.2 1396.7,562.33 1397.2,562.4 1397.7,562.17 1398.2,562.52 1398.7,562.17 1399.2,561.91 1399.7,561.7 1400.2,562.09 1400.7,562.11 1401.2,562.46 1401.7,562.44 1402.2,561.86 1402.7,561.4 1403.2,561.21 1403.7,560.75 1404.2,560.86 1404.7,561.26 1405.2,561.74 1405.7,561.85 1406.2,562.16 1406.7,562.26 1407.2,562.15 1407.7,562.5 1408.2,562.56 1408.7,562.59 1409.2,562.64 1409.7,562.93 1410.2,562.54 1410.7,562.24 1411.2,562.11 1411.7,562.1 1412.2,561.56 1412.7,561.25 1413.2,561.44 1413.7,561.78 1414.2,562.05 1414.7,562.59 1415.2,563.17 1415.7,562.8 1416.2,562.95 1416.7,562.45 1417.2,562.59 1417.7,562.33 1418.2,562.73 1418.7,562.31 1419.2,562.01 1419.7,562.08 1420.2,561.58 1420.7,561.83 1421.2,561.72 1421.7,562.05 1422.2,561.72 1422.7,561.79 1423.2,561.2 1423.7,561.16 1424.2,561.24 1424.7,560.96 1425.2,561 1425.7,561.16 1426.2,561.35 1426.7,561.4 1427.2,561.5 1427.7,562.01 1428.2,562.23 1428.7,561.65 1429.2,561.38 1429.7,561.45 1430.2,561.32 1430.7,561.4 1431.2,561.68 1431.7,562.22 1432.2,562 1432.7,561.71 1433.2,561.42 1433.7,561.07 1434.2,560.8 1434.7,561.41 1435.2,561.53 1435.7,561.93 1436.2,562.33 1436.7,562.02 1437.2,561.75 1437.7,561.52 1438.2,561.24 1438.7,561.89 1439.2,562.11 1439.7,562.07 1440.2,562.37 1440.7,562.43 1441.2,561.74 1441.7,561.69 1442.2,561.62 1442.7,562.01 1443.2,561.87 1443.7,561.81 1444.2,561.47 1444.7,561.78 1445.2,561.46 1445.7,561.88 1446.2,562.43 1446.7,562.56 1447.2,562.19 1447.7,561.93 1448.2,561.65 1448.7,561.3 1449.2,561.9 1449.7,561.87 1450.2,561.5 1450.7,561.56 1451.2,561.28 1451.7,561.15 1452.2,561.14 1452.7,561.5 1453.2,561.33 1453.7,561.41 1454.2,561.58 1454.7,561.71 1455.2,561.98 1455.7,562.03 1456.2,562.32 1456.7,562.01 1457.2,562.15 1457.7,561.85 1458.2,561.89 1458.7,562 1459.2,561.79 1459.7,561.67 1460.2,561.64 1460.7,561 1461.2,560.58 1461.7,561.02 1462.2,560.89 1462.7,560.88 1463.2,561.26 1463.7,561.8 1464.2,561.96 1464.7,562.02 1465.2,562.46 1465.7,562.99 1466.2,562.92 1466.7,562.31 1467.2,561.88 1467.7,561.62" fill="none" stroke="#000" stroke-width="2.9" stroke-linejoin="round" stroke-linecap="round" stroke-linecap="butt"/>
<polyline points="1096.7,752.08 1097.2,752.29 1097.7,752.1 1098.2,752.02 1098.7,752.04 1099.2,751.96 1099.7,751.79 1100.2,751.7 1100.7,751.87 1101.2,751.99 1101.7,752.04 1102.2,751.68 1102.7,751.68 1103.2,751.81 1103.7,752.21 1104.2,752.16 1104.7,752.52 1105.2,752.31 1105.7,752.43 1106.2,752.12 1106.7,752.02 1107.2,751.81 1107.7,752.22 1108.2,751.97 1108.7,752.15 1109.2,752.59 1109.7,752.93 1110.2,753.09 1110.7,752.89 1111.2,752.74 1111.7,752.27 1112.2,752.13 1112.7,751.8 1113.2,752.12 1113.7,752.15 1114.2,752.17 1114.7,751.99 1115.2,751.82 1115.7,752.21 1116.2,752.02 1116.7,752.15 1117.2,751.75 1117.7,751.59 1118.2,750.97 1118.7,751.24 1119.2,751.4 1119.7,751.83 1120.2,752.01 1120.7,752.58 1121.2,752.19 1121.7,751.85 1122.2,751.89 1122.7,751.82 1123.2,751.48 1123.7,751.9 1124.2,752.07 1124.7,752.05 1125.2,752.27 1125.7,752.07 1126.2,751.19 1126.7,750.95 1127.2,750.86 1127.7,750.5 1128.2,750.53 1128.7,751.24 1129.2,751.79 1129.7,751.5 1130.2,751.73 1130.7,751.9 1131.2,751.97 1131.7,751.39 1132.2,752.07 1132.7,752.01 1133.2,752.2 1133.7,752.04 1134.2,752.42 1134.7,752.38 1135.2,752.71 1135.7,752.5 1136.2,752.33 1136.7,752.1 1137.2,751.44 1137.7,751.72 1138.2,751.36 1138.7,751.03 1139.2,751.52 1139.7,752.09 1140.2,751.59 1140.7,752.1 1141.2,752.47 1141.7,751.99 1142.2,751.83 1142.7,751.99 1143.2,751.71 1143.7,752.23 1144.2,752.51 1144.7,752.44 1145.2,752.1 1145.7,752.23 1146.2,751.81 1146.7,751.64 1147.2,751.78 1147.7,751.91 1148.2,751.93 1148.7,752.17 1149.2,752.26 1149.7,752.58 1150.2,752.33 1150.7,752.26 1151.2,751.83 1151.7,751.74 1152.2,751.79 1152.7,751.81 1153.2,751.76 1153.7,752.15 1154.2,752.18 1154.7,751.84 1155.2,751.86 1155.7,752.13 1156.2,751.78 1156.7,751.5 1157.2,751.42 1157.7,751.86 1158.2,751.49 1158.7,751.52 1159.2,751.73 1159.7,751.61 1160.2,751.47 1160.7,751.4 1161.2,751.08 1161.7,751.4 1162.2,751.44 1162.7,751.21 1163.2,751.08 1163.7,751.43 1164.2,751.06 1164.7,750.56 1165.2,751.12 1165.7,751.55 1166.2,751.63 1166.7,751.79 1167.2,752.29 1167.7,752.21 1168.2,752.15 1168.7,752.49 1169.2,752.74 1169.7,752.62 1170.2,752.29 1170.7,752.07 1171.2,751.74 1171.7,751.25 1172.2,751.31 1172.7,751.47 1173.2,751.77 1173.7,751.57 1174.2,751.95 1174.7,751.88 1175.2,751.78 1175.7,751.55 1176.2,751.36 1176.7,751.17 1177.2,750.85 1177.7,751.11 1178.2,751.22 1178.7,751.97 1179.2,752.05 1179.7,752.57 1180.2,752.62 1180.7,752.6 1181.2,752.58 1181.7,752.4 1182.2,752.29 1182.7,751.84 1183.2,751.95 1183.7,751.75 1184.2,751.66 1184.7,751.31 1185.2,751.44 1185.7,751.39 1186.2,751.2 1186.7,751.08 1187.2,751.18 1187.7,751.09 1188.2,750.4 1188.7,750.24 1189.2,750.66 1189.7,750.39 1190.2,750.19 1190.7,750.82 1191.2,750.68 1191.7,750.03 1192.2,749.58 1192.7,748.52 1193.2,747.83 1193.7,746.74 1194.2,745.62 1194.7,745.15 1195.2,745 1195.7,744.16 1196.2,744.1 1196.7,744.8 1197.2,745.73 1197.7,747.2 1198.2,749.16 1198.7,751.44 1199.2,753.12 1199.7,754.53 1200.2,756 1200.7,757.29 1201.2,758.06 1201.7,758.2 1202.2,758.45 1202.7,758.03 1203.2,756.87 1203.7,755.94 1204.2,755.27 1204.7,754.09 1205.2,753.54 1205.7,753.01 1206.2,752.38 1206.7,752.27 1207.2,752.38 1207.7,751.73 1208.2,752.02 1208.7,752.66 1209.2,752.16 1209.7,751.74 1210.2,751.8 1210.7,751.55 1211.2,750.87 1211.7,750.99 1212.2,750.92 1212.7,751.18 1213.2,751.85 1213.7,751.99 1214.2,752.27 1214.7,752.82 1215.2,752.3 1215.7,751.83 1216.2,752.04 1216.7,751.76 1217.2,751.66 1217.7,752.05 1218.2,752.09 1218.7,752 1219.2,752.03 1219.7,751.68 1220.2,752.25 1220.7,752.16 1221.2,751.99 1221.7,752.43 1222.2,752.92 1222.7,752.38 1223.2,752.24 1223.7,752.32 1224.2,752.15 1224.7,751.73 1225.2,751.61 1225.7,751.93 1226.2,752.02 1226.7,751.73 1227.2,752.21 1227.7,752.54 1228.2,752.61 1228.7,752.75 1229.2,753.03 1229.7,752.56 1230.2,752.57 1230.7,752.52 1231.2,752.33 1231.7,751.76 1232.2,751.9 1232.7,751.66 1233.2,751.55 1233.7,751.49 1234.2,751.87 1234.7,751.94 1235.2,752.46 1235.7,752.7 1236.2,752.9 1236.7,753.08 1237.2,752.72 1237.7,752.44 1238.2,752.07 1238.7,752.25 1239.2,751.99 1239.7,752.06 1240.2,751.63 1240.7,751.85 1241.2,751.55 1241.7,751.61 1242.2,751.73 1242.7,751.4 1243.2,751.2 1243.7,751.02 1244.2,750.83 1244.7,750.64 1245.2,750.41 1245.7,749.82 1246.2,749.34 1246.7,748.6 1247.2,747.76 1247.7,746.86 1248.2,745.55 1248.7,744.25 1249.2,742.32 1249.7,741.2 1250.2,740.13 1250.7,739.95 1251.2,739.98 1251.7,741.67 1252.2,743.18 1252.7,745.8 1253.2,748.15 1253.7,751.5 1254.2,754.27 1254.7,757 1255.2,759.12 1255.7,761.09 1256.2,761.98 1256.7,762.36 1257.2,761.81 1257.7,761.32 1258.2,760.62 1258.7,759.44 1259.2,758.37 1259.7,757.39 1260.2,756.28 1260.7,755.4 1261.2,754.88 1261.7,753.97 1262.2,753.38 1262.7,753.14 1263.2,752.78 1263.7,752.78 1264.2,752.81 1264.7,752.74 1265.2,752.42 1265.7,752.37 1266.2,752.18 1266.7,752.34 1267.2,752.34 1267.7,752.32 1268.2,752.43 1268.7,752.28 1269.2,751.76 1269.7,752.21 1270.2,752.66 1270.7,752.48 1271.2,752.56 1271.7,752.64 1272.2,752.48 1272.7,752.18 1273.2,752.05 1273.7,751.92 1274.2,751.82 1274.7,751.81 1275.2,752.25 1275.7,752.49 1276.2,752.1 1276.7,752.27 1277.2,751.9 1277.7,751.61 1278.2,750.98 1278.7,750.94 1279.2,750.9 1279.7,751.24 1280.2,751.1 1280.7,752.03 1281.2,752.3 1281.7,752.39 1282.2,752.14 1282.7,751.99 1283.2,751.75 1283.7,751.63 1284.2,751.39 1284.7,751.33 1285.2,751.4 1285.7,751.39 1286.2,751.55 1286.7,751.87 1287.2,751.84 1287.7,752.2 1288.2,751.94 1288.7,752.1 1289.2,751.63 1289.7,751.87 1290.2,751.44 1290.7,751.62 1291.2,751.66 1291.7,752.11 1292.2,752.19 1292.7,752.39 1293.2,752 1293.7,751.9 1294.2,751.81 1294.7,751.3 1295.2,751.33 1295.7,751.81 1296.2,751.81 1296.7,751.78 1297.2,752.11 1297.7,752.19 1298.2,751.73 1298.7,751.84 1299.2,751.6 1299.7,751.54 1300.2,751.3 1300.7,750.96 1301.2,750.64 1301.7,750.48 1302.2,749.5 1302.7,748.62 1303.2,747.92 1303.7,746.56 1304.2,745.43 1304.7,744.36 1305.2,743.22 1305.7,742.02 1306.2,741.36 1306.7,741.31 1307.2,741.81 1307.7,742.38 1308.2,744 1308.7,746.24 1309.2,748.17 1309.7,751.21 1310.2,755.16 1310.7,758.65 1311.2,761.43 1311.7,763.6 1312.2,764.26 1312.7,763.89 1313.2,763.12 1313.7,762.15 1314.2,761.07 1314.7,759.72 1315.2,758.42 1315.7,757.23 1316.2,755.91 1316.7,754.43 1317.2,753.93 1317.7,753.45 1318.2,753.07 1318.7,752.51 1319.2,752.77 1319.7,752.06 1320.2,752.01 1320.7,752.18 1321.2,752.1 1321.7,751.76 1322.2,752.12 1322.7,752.37 1323.2,751.73 1323.7,752.12 1324.2,752.15 1324.7,752.28 1325.2,751.81 1325.7,752.34 1326.2,752.28 1326.7,752.24 1327.2,751.88 1327.7,752.32 1328.2,751.99 1328.7,751.82 1329.2,751.72 1329.7,751.83 1330.2,751.88 1330.7,751.67 1331.2,751.74 1331.7,751.96 1332.2,752.24 1332.7,751.93 1333.2,752.53 1333.7,752.42 1334.2,752.45 1334.7,752.16 1335.2,752.37 1335.7,752.02 1336.2,751.9 1336.7,752.1 1337.2,752.36 1337.7,752.27 1338.2,752.3 1338.7,752.45 1339.2,751.84 1339.7,751.28 1340.2,751.39 1340.7,751.62 1341.2,751.61 1341.7,751.69 1342.2,751.68 1342.7,751.46 1343.2,751.39 1343.7,751.44 1344.2,751.33 1344.7,751.3 1345.2,751.49 1345.7,751.4 1346.2,751.76 1346.7,752.36 1347.2,752.64 1347.7,752.41 1348.2,752.38 1348.7,751.75 1349.2,751.28 1349.7,751.45 1350.2,751.71 1350.7,751.86 1351.2,752.42 1351.7,752.47 1352.2,752.41 1352.7,752.28 1353.2,752.13 1353.7,751.83 1354.2,752.01 1354.7,751.51 1355.2,751.16 1355.7,751.04 1356.2,750.99 1356.7,750.62 1357.2,750.68 1357.7,750.38 1358.2,750.17 1358.7,749.65 1359.2,749.44 1359.7,748.64 1360.2,748.12 1360.7,747.11 1361.2,746.56 1361.7,745.77 1362.2,745.62 1362.7,745.32 1363.2,745.58 1363.7,745.87 1364.2,747.03 1364.7,748.78 1365.2,751 1365.7,752.52 1366.2,754.56 1366.7,755.47 1367.2,756.41 1367.7,757.18 1368.2,757.64 1368.7,757.42 1369.2,757.11 1369.7,756.23 1370.2,755.36 1370.7,754.81 1371.2,753.93 1371.7,754.04 1372.2,753.66 1372.7,753.34 1373.2,752.75 1373.7,752.7 1374.2,752.37 1374.7,752.2 1375.2,751.92 1375.7,751.84 1376.2,751.95 1376.7,751.93 1377.2,752.13 1377.7,752.55 1378.2,752.94 1378.7,752.77 1379.2,752.25 1379.7,752.29 1380.2,752.26 1380.7,752.39 1381.2,752.49 1381.7,752.68 1382.2,752.62 1382.7,752.16 1383.2,752.21 1383.7,751.7 1384.2,751.99 1384.7,751.76 1385.2,751.88 1385.7,751.37 1386.2,751.59 1386.7,751.51 1387.2,751.92 1387.7,752.02 1388.2,752.39 1388.7,752.64 1389.2,753 1389.7,752.63 1390.2,752.75 1390.7,752.71 1391.2,752.55 1391.7,752.24 1392.2,752.22 1392.7,752.08 1393.2,751.79 1393.7,751.62 1394.2,751.29 1394.7,751.41 1395.2,751.22 1395.7,751.23 1396.2,751.49 1396.7,751.34 1397.2,751.13 1397.7,751.31 1398.2,751.2 1398.7,750.86 1399.2,751.59 1399.7,751.89 1400.2,751.88 1400.7,751.94 1401.2,751.82 1401.7,751.17 1402.2,750.6 1402.7,750.82 1403.2,750.86 1403.7,751.39 1404.2,751.64 1404.7,751.7 1405.2,751.99 1405.7,752.21 1406.2,752.2 1406.7,752.08 1407.2,752.39 1407.7,751.94 1408.2,752.22 1408.7,751.76 1409.2,751.65 1409.7,751.88 1410.2,751.49 1410.7,751.42 1411.2,751.45 1411.7,751.93 1412.2,751.78 1412.7,752.13 1413.2,751.57 1413.7,752.13 1414.2,751.81 1414.7,751.56 1415.2,751.77 1415.7,751.98 1416.2,751.78 1416.7,751.76 1417.2,752.12 1417.7,752.08 1418.2,752.11 1418.7,751.65 1419.2,751.84 1419.7,752.06 1420.2,752.06 1420.7,752.25 1421.2,752.77 1421.7,752.6 1422.2,752.53 1422.7,752.38 1423.2,751.97 1423.7,751.53 1424.2,751.82 1424.7,751.74 1425.2,751.93 1425.7,752.02 1426.2,751.9 1426.7,751.85 1427.2,751.68 1427.7,751.41 1428.2,751.4 1428.7,751.67 1429.2,751.1 1429.7,751.26 1430.2,751.54 1430.7,751.85 1431.2,751.9 1431.7,752.03 1432.2,751.6 1432.7,751.39 1433.2,751.57 1433.7,751.85 1434.2,752.12 1434.7,752.51 1435.2,752.75 1435.7,752.39 1436.2,752.24 1436.7,752.28 1437.2,752.06 1437.7,751.64 1438.2,751.51 1438.7,751.7 1439.2,751.32 1439.7,751.35 1440.2,751.51 1440.7,751.63 1441.2,751.29 1441.7,751.8 1442.2,751.81 1442.7,751.9 1443.2,752.04 1443.7,751.84 1444.2,751.9 1444.7,752.2 1445.2,751.92 1445.7,751.75 1446.2,751.89 1446.7,751.58 1447.2,751.53 1447.7,751.41 1448.2,751.61 1448.7,751.86 1449.2,751.94 1449.7,752.24 1450.2,752.54 1450.7,752.04 1451.2,752.03 1451.7,752.06 1452.2,751.45 1452.7,751.1 1453.2,751.02 1453.7,751.28 1454.2,750.93 1454.7,751.36 1455.2,751.99 1455.7,751.92 1456.2,751.62 1456.7,752.08 1457.2,752.02 1457.7,752.13 1458.2,752.87 1458.7,752.82 1459.2,752.63 1459.7,752.35 1460.2,752.18 1460.7,751.71 1461.2,751.49 1461.7,752.03 1462.2,752.28 1462.7,752.39 1463.2,752.55 1463.7,752.59 1464.2,752.01 1464.7,751.63 1465.2,751.27 1465.7,750.99 1466.2,751.3 1466.7,751.46 1467.2,751.8 1467.7,751.95" fill="none" stroke="#000" stroke-width="2.9" stroke-linejoin="round" stroke-linecap="round" stroke-linecap="butt"/>
<path d="M1197.1,726.5 L1198.98,731.52 L1204.33,731.75 L1200.14,735.09 L1201.57,740.25 L1197.1,737.29 L1192.63,740.25 L1194.06,735.09 L1189.87,731.75 L1195.22,731.52Z" fill="#e60012"/>
<path d="M1252,722.6 L1253.88,727.62 L1259.23,727.85 L1255.04,731.19 L1256.47,736.35 L1252,733.39 L1247.53,736.35 L1248.96,731.19 L1244.77,727.85 L1250.12,727.62Z" fill="#e60012"/>
<path d="M1307.9,724.7 L1309.78,729.72 L1315.13,729.95 L1310.94,733.29 L1312.37,738.45 L1307.9,735.49 L1303.43,738.45 L1304.86,733.29 L1300.67,729.95 L1306.02,729.72Z" fill="#e60012"/>
<path d="M1363.5,727.8 L1365.38,732.82 L1370.73,733.05 L1366.54,736.39 L1367.97,741.55 L1363.5,738.59 L1359.03,741.55 L1360.46,736.39 L1356.27,733.05 L1361.62,732.82Z" fill="#e60012"/>
<polyline points="1096.7,942.9 1097.2,942.88 1097.7,942.8 1098.2,941.86 1098.7,941.86 1099.2,941.72 1099.7,941.8 1100.2,941.87 1100.7,941.63 1101.2,941.21 1101.7,941.12 1102.2,940.48 1102.7,940.51 1103.2,940.85 1103.7,941.36 1104.2,941.36 1104.7,941.75 1105.2,941.9 1105.7,942.14 1106.2,941.69 1106.7,942.23 1107.2,942.14 1107.7,942.28 1108.2,942.05 1108.7,942.18 1109.2,941.56 1109.7,941.67 1110.2,941.94 1110.7,941.86 1111.2,942.3 1111.7,942.89 1112.2,942.83 1112.7,942.54 1113.2,943 1113.7,942.58 1114.2,942.16 1114.7,942.5 1115.2,942.33 1115.7,942.49 1116.2,942.66 1116.7,942.52 1117.2,942.25 1117.7,941.91 1118.2,941.59 1118.7,941.66 1119.2,941.82 1119.7,941.63 1120.2,942.1 1120.7,941.85 1121.2,941.96 1121.7,941.83 1122.2,941.97 1122.7,941.64 1123.2,941.49 1123.7,941.83 1124.2,942.44 1124.7,942.36 1125.2,942.66 1125.7,942.48 1126.2,942.15 1126.7,942.02 1127.2,942.08 1127.7,941.82 1128.2,942.28 1128.7,942.1 1129.2,941.77 1129.7,941.66 1130.2,941.68 1130.7,941.52 1131.2,941.6 1131.7,941.7 1132.2,941.94 1132.7,941.63 1133.2,941.63 1133.7,941.37 1134.2,941.23 1134.7,941.15 1135.2,941.46 1135.7,941.2 1136.2,941.5 1136.7,941.82 1137.2,941.73 1137.7,941.94 1138.2,942.08 1138.7,941.58 1139.2,941.32 1139.7,941.79 1140.2,941.62 1140.7,941.49 1141.2,941.83 1141.7,941.74 1142.2,941.23 1142.7,941.33 1143.2,941.28 1143.7,940.82 1144.2,940.62 1144.7,941.03 1145.2,940.97 1145.7,941.23 1146.2,941.48 1146.7,941.96 1147.2,942 1147.7,941.81 1148.2,942 1148.7,942.69 1149.2,942.68 1149.7,942.32 1150.2,942.56 1150.7,942.53 1151.2,942.14 1151.7,942.08 1152.2,942.04 1152.7,941.94 1153.2,941.99 1153.7,941.68 1154.2,941.62 1154.7,941.52 1155.2,941.82 1155.7,942.09 1156.2,942.04 1156.7,942.22 1157.2,942.46 1157.7,942.19 1158.2,941.78 1158.7,942.03 1159.2,942.06 1159.7,941.74 1160.2,941.94 1160.7,941.94 1161.2,941.62 1161.7,941.38 1162.2,941.79 1162.7,941.53 1163.2,941.65 1163.7,941.82 1164.2,941.7 1164.7,941.78 1165.2,941.58 1165.7,941.73 1166.2,941.87 1166.7,941.92 1167.2,941.63 1167.7,941.77 1168.2,941.53 1168.7,941.43 1169.2,941.45 1169.7,941.05 1170.2,940.62 1170.7,940.7 1171.2,940.55 1171.7,940.44 1172.2,940.82 1172.7,941.03 1173.2,941.29 1173.7,941.41 1174.2,941.48 1174.7,941.26 1175.2,941.69 1175.7,941.48 1176.2,941.8 1176.7,942.01 1177.2,942.04 1177.7,941.53 1178.2,941.65 1178.7,941.14 1179.2,940.88 1179.7,941 1180.2,941.36 1180.7,941.14 1181.2,941.02 1181.7,940.86 1182.2,940.47 1182.7,940.44 1183.2,940.24 1183.7,940.04 1184.2,940.37 1184.7,940.71 1185.2,940.31 1185.7,940.2 1186.2,940.39 1186.7,940.12 1187.2,940.1 1187.7,940.14 1188.2,940.26 1188.7,939.74 1189.2,939.57 1189.7,939.59 1190.2,939.84 1190.7,939.8 1191.2,939.99 1191.7,939.47 1192.2,938.91 1192.7,938.71 1193.2,937.84 1193.7,936.83 1194.2,935.31 1194.7,933.35 1195.2,930.04 1195.7,926.7 1196.2,922.88 1196.7,918.2 1197.2,913.39 1197.7,909.1 1198.2,905 1198.7,902.14 1199.2,901.72 1199.7,903.08 1200.2,907.59 1200.7,914.74 1201.2,923.76 1201.7,934.73 1202.2,945.32 1202.7,953.77 1203.2,961.33 1203.7,967.85 1204.2,972.08 1204.7,975.01 1205.2,975.48 1205.7,974.09 1206.2,971.34 1206.7,967.53 1207.2,963.22 1207.7,958.98 1208.2,955.51 1208.7,952.53 1209.2,950.3 1209.7,948.09 1210.2,946.93 1210.7,945.89 1211.2,944.87 1211.7,943.72 1212.2,943.44 1212.7,943.3 1213.2,943.01 1213.7,943.57 1214.2,944.03 1214.7,943.9 1215.2,943.61 1215.7,943.69 1216.2,943.22 1216.7,942.97 1217.2,943.16 1217.7,943.77 1218.2,943.8 1218.7,943.66 1219.2,943.54 1219.7,942.98 1220.2,942.31 1220.7,941.95 1221.2,941.84 1221.7,941.77 1222.2,942.27 1222.7,942.41 1223.2,942.29 1223.7,941.95 1224.2,942.08 1224.7,942.16 1225.2,941.97 1225.7,942.17 1226.2,942.11 1226.7,941.87 1227.2,941.64 1227.7,941.58 1228.2,941.42 1228.7,941.8 1229.2,942.05 1229.7,941.89 1230.2,941.6 1230.7,941.23 1231.2,941.09 1231.7,940.81 1232.2,940.69 1232.7,941.03 1233.2,941.13 1233.7,940.96 1234.2,941.07 1234.7,940.84 1235.2,940.05 1235.7,940 1236.2,940.16 1236.7,939.8 1237.2,939.86 1237.7,939.84 1238.2,940.13 1238.7,939.47 1239.2,939.36 1239.7,939.28 1240.2,940.01 1240.7,939.66 1241.2,939.77 1241.7,939.48 1242.2,939.33 1242.7,938.51 1243.2,938.23 1243.7,938.26 1244.2,938.72 1244.7,938.4 1245.2,938.8 1245.7,938.31 1246.2,938.47 1246.7,937.7 1247.2,937.33 1247.7,936.14 1248.2,935.45 1248.7,933.3 1249.2,930.92 1249.7,927.44 1250.2,922.89 1250.7,917.03 1251.2,909.83 1251.7,901.53 1252.2,892.43 1252.7,883.55 1253.2,875.48 1253.7,869.13 1254.2,866.28 1254.7,867.4 1255.2,872.95 1255.7,882.93 1256.2,898.29 1256.7,916.94 1257.2,938.1 1257.7,957.41 1258.2,975.52 1258.7,990.55 1259.2,1001.57 1259.7,1007.81 1260.2,1010.38 1260.7,1009.1 1261.2,1004.43 1261.7,997.53 1262.2,990 1262.7,981.51 1263.2,973.67 1263.7,966.58 1264.2,960.8 1264.7,956.21 1265.2,953.45 1265.7,950.92 1266.2,949.29 1266.7,948.49 1267.2,947.64 1267.7,946.21 1268.2,945.59 1268.7,945.14 1269.2,944.42 1269.7,943.76 1270.2,944.22 1270.7,944.25 1271.2,944.64 1271.7,944.6 1272.2,944.82 1272.7,944.4 1273.2,944.46 1273.7,944.24 1274.2,944.55 1274.7,944.64 1275.2,944.57 1275.7,944.51 1276.2,943.94 1276.7,943.34 1277.2,942.99 1277.7,943.48 1278.2,942.97 1278.7,942.87 1279.2,942.97 1279.7,943.19 1280.2,942.78 1280.7,942.97 1281.2,942.93 1281.7,942.72 1282.2,942.67 1282.7,942.5 1283.2,942.17 1283.7,942.21 1284.2,942.51 1284.7,942.54 1285.2,942.54 1285.7,942.43 1286.2,942.8 1286.7,942.3 1287.2,941.89 1287.7,941.82 1288.2,941.92 1288.7,941.46 1289.2,941.87 1289.7,941.84 1290.2,941.37 1290.7,941.16 1291.2,941.41 1291.7,940.94 1292.2,940.57 1292.7,940.99 1293.2,941.13 1293.7,940.76 1294.2,940.83 1294.7,940.87 1295.2,940.61 1295.7,940.53 1296.2,940.29 1296.7,940.33 1297.2,940.07 1297.7,940.36 1298.2,940.13 1298.7,940.21 1299.2,939.55 1299.7,939.82 1300.2,939.06 1300.7,939 1301.2,938.75 1301.7,938.63 1302.2,938.58 1302.7,938.41 1303.2,937.64 1303.7,936.74 1304.2,935.76 1304.7,933.61 1305.2,931.22 1305.7,927.71 1306.2,923.21 1306.7,917.17 1307.2,909.91 1307.7,901.78 1308.2,893.02 1308.7,884.02 1309.2,876.66 1309.7,871.17 1310.2,868.72 1310.7,870.66 1311.2,877.42 1311.7,888.32 1312.2,904.04 1312.7,922.19 1313.2,942.55 1313.7,961.13 1314.2,978.29 1314.7,992.01 1315.2,1002.63 1315.7,1008.33 1316.2,1009.82 1316.7,1007.58 1317.2,1002.68 1317.7,995.47 1318.2,987.96 1318.7,980.15 1319.2,972.57 1319.7,966.14 1320.2,960.81 1320.7,955.9 1321.2,952.48 1321.7,949.87 1322.2,948.17 1322.7,947.3 1323.2,946.63 1323.7,946.02 1324.2,945.64 1324.7,944.96 1325.2,944.44 1325.7,944.16 1326.2,944.15 1326.7,944.21 1327.2,944.31 1327.7,944.14 1328.2,944.2 1328.7,944.14 1329.2,944.25 1329.7,944 1330.2,943.88 1330.7,943.48 1331.2,943.26 1331.7,943.11 1332.2,943.29 1332.7,942.97 1333.2,942.94 1333.7,942.86 1334.2,942.53 1334.7,942.3 1335.2,942.47 1335.7,942.45 1336.2,942.84 1336.7,942.94 1337.2,942.99 1337.7,942.59 1338.2,942.86 1338.7,942.53 1339.2,942.6 1339.7,942.04 1340.2,942.35 1340.7,941.98 1341.2,941.94 1341.7,941.84 1342.2,942.13 1342.7,942 1343.2,942.35 1343.7,942.45 1344.2,942.04 1344.7,942.01 1345.2,942.2 1345.7,941.8 1346.2,941.58 1346.7,941.82 1347.2,942.22 1347.7,942.18 1348.2,942.18 1348.7,942.36 1349.2,942.52 1349.7,942.47 1350.2,942.16 1350.7,941.82 1351.2,941.63 1351.7,941.44 1352.2,940.65 1352.7,939.87 1353.2,940.14 1353.7,939.92 1354.2,939.68 1354.7,939.88 1355.2,940.65 1355.7,940.26 1356.2,940.43 1356.7,940.23 1357.2,940.23 1357.7,940.06 1358.2,940.05 1358.7,939.31 1359.2,939.33 1359.7,938.32 1360.2,937.36 1360.7,936.46 1361.2,934.62 1361.7,931.69 1362.2,928.89 1362.7,924.63 1363.2,920.02 1363.7,915.59 1364.2,911.53 1364.7,907.83 1365.2,906.11 1365.7,905.46 1366.2,906.75 1366.7,910.8 1367.2,916.69 1367.7,924.82 1368.2,934.11 1368.7,944.23 1369.2,953.77 1369.7,963.19 1370.2,970.08 1370.7,975.19 1371.2,977.67 1371.7,978.16 1372.2,976.24 1372.7,973.14 1373.2,969.07 1373.7,964.77 1374.2,960.77 1374.7,956.69 1375.2,953.5 1375.7,951.01 1376.2,949.21 1376.7,947.34 1377.2,946.51 1377.7,945.48 1378.2,944.79 1378.7,944.45 1379.2,944.21 1379.7,943.83 1380.2,943.2 1380.7,943.12 1381.2,942.7 1381.7,942.84 1382.2,943.11 1382.7,943.68 1383.2,943.69 1383.7,943.46 1384.2,943.12 1384.7,942.63 1385.2,942.92 1385.7,942.53 1386.2,943.4 1386.7,943.35 1387.2,943.04 1387.7,942.99 1388.2,943.19 1388.7,942.75 1389.2,942.99 1389.7,943.05 1390.2,942.53 1390.7,942.57 1391.2,942.74 1391.7,942.43 1392.2,942.87 1392.7,942.57 1393.2,942.63 1393.7,942.14 1394.2,942.08 1394.7,941.95 1395.2,942.5 1395.7,942.22 1396.2,942.5 1396.7,942.49 1397.2,942.59 1397.7,942.28 1398.2,942.72 1398.7,942.38 1399.2,942.21 1399.7,942.34 1400.2,942.27 1400.7,942.1 1401.2,942.46 1401.7,942.31 1402.2,941.96 1402.7,942 1403.2,941.83 1403.7,941.35 1404.2,941.74 1404.7,941.84 1405.2,941.69 1405.7,941.72 1406.2,942.07 1406.7,941.66 1407.2,941.6 1407.7,942.02 1408.2,942.17 1408.7,941.88 1409.2,942.08 1409.7,942.09 1410.2,941.97 1410.7,941.98 1411.2,942.23 1411.7,942.56 1412.2,942.41 1412.7,942.72 1413.2,942.5 1413.7,942.27 1414.2,941.97 1414.7,941.72 1415.2,941.15 1415.7,941.12 1416.2,941.42 1416.7,941.78 1417.2,941.98 1417.7,941.98 1418.2,942.19 1418.7,942.3 1419.2,942.22 1419.7,942.46 1420.2,942.36 1420.7,942.1 1421.2,941.53 1421.7,941.22 1422.2,941.42 1422.7,942.01 1423.2,942.06 1423.7,942.52 1424.2,942.96 1424.7,942.46 1425.2,941.83 1425.7,941.74 1426.2,941.16 1426.7,941.01 1427.2,941.22 1427.7,941.44 1428.2,941.59 1428.7,942.15 1429.2,941.99 1429.7,941.74 1430.2,941.94 1430.7,941.81 1431.2,941.77 1431.7,941.62 1432.2,941.88 1432.7,941.41 1433.2,941.55 1433.7,941.42 1434.2,941.79 1434.7,941.61 1435.2,941.76 1435.7,941.88 1436.2,941.52 1436.7,941.42 1437.2,941.57 1437.7,941.66 1438.2,941.53 1438.7,941.89 1439.2,941.56 1439.7,941.73 1440.2,941.63 1440.7,941.64 1441.2,941.65 1441.7,941.69 1442.2,941.4 1442.7,941.65 1443.2,941.54 1443.7,941.87 1444.2,942.22 1444.7,942.25 1445.2,942.41 1445.7,941.98 1446.2,942.05 1446.7,941.59 1447.2,941.41 1447.7,941.43 1448.2,941.58 1448.7,941.06 1449.2,941.41 1449.7,941.24 1450.2,940.97 1450.7,941.51 1451.2,941.51 1451.7,941.76 1452.2,942.01 1452.7,942.35 1453.2,942.25 1453.7,942.43 1454.2,942.06 1454.7,942.04 1455.2,941.96 1455.7,941.62 1456.2,941.59 1456.7,941.79 1457.2,942.1 1457.7,942.02 1458.2,942.14 1458.7,941.86 1459.2,941.76 1459.7,941.62 1460.2,941.71 1460.7,941.42 1461.2,941.69 1461.7,941.72 1462.2,941.66 1462.7,941.08 1463.2,941.5 1463.7,941.73 1464.2,941.5 1464.7,941.4 1465.2,941.53 1465.7,941.31 1466.2,940.7 1466.7,941.52 1467.2,941.67 1467.7,942.15" fill="none" stroke="#000" stroke-width="2.9" stroke-linejoin="round" stroke-linecap="round" stroke-linecap="butt"/>
<path d="M1199.2,882.7 L1201.08,887.72 L1206.43,887.95 L1202.24,891.29 L1203.67,896.45 L1199.2,893.49 L1194.73,896.45 L1196.16,891.29 L1191.97,887.95 L1197.32,887.72Z" fill="#e60012"/>
<path d="M1254.3,847.6 L1256.18,852.62 L1261.53,852.85 L1257.34,856.19 L1258.77,861.35 L1254.3,858.39 L1249.83,861.35 L1251.26,856.19 L1247.07,852.85 L1252.42,852.62Z" fill="#e60012"/>
<path d="M1310.2,847.6 L1312.08,852.62 L1317.43,852.85 L1313.24,856.19 L1314.67,861.35 L1310.2,858.39 L1305.73,861.35 L1307.16,856.19 L1302.97,852.85 L1308.32,852.62Z" fill="#e60012"/>
<path d="M1366.4,886.6 L1368.28,891.62 L1373.63,891.85 L1369.44,895.19 L1370.87,900.35 L1366.4,897.39 L1361.93,900.35 L1363.36,895.19 L1359.17,891.85 L1364.52,891.62Z" fill="#e60012"/>
<line x1="1095.7" y1="656.9" x2="1469" y2="656.9" stroke="#000" stroke-width="2" />
<line x1="1095.7" y1="846.9" x2="1469" y2="846.9" stroke="#000" stroke-width="2" />
<rect x="1095.7" y="466.8" width="373.3" height="570.2" fill="none" stroke="#000" stroke-width="2" />
<path d="M850.3,1012.7 L852.18,1017.72 L857.53,1017.95 L853.34,1021.29 L854.77,1026.45 L850.3,1023.49 L845.83,1026.45 L847.26,1021.29 L843.07,1017.95 L848.42,1017.72Z" fill="#e60012"/>
<text transform="translate(863.81,1028.6) scale(1,1.04)" font-size="20.6" fill="#000" stroke="#000" >DMPO- OH</text>
<path d="M1339.1,1013.2 L1340.98,1018.22 L1346.33,1018.45 L1342.14,1021.79 L1343.57,1026.95 L1339.1,1023.99 L1334.63,1026.95 L1336.06,1021.79 L1331.87,1018.45 L1337.22,1018.22Z" fill="#e60012"/>
<text transform="translate(1353.01,1028.9) scale(1,1.04)" font-size="20.6" fill="#000" stroke="#000" >DMPO- OH</text>
</svg>
</body></html>
